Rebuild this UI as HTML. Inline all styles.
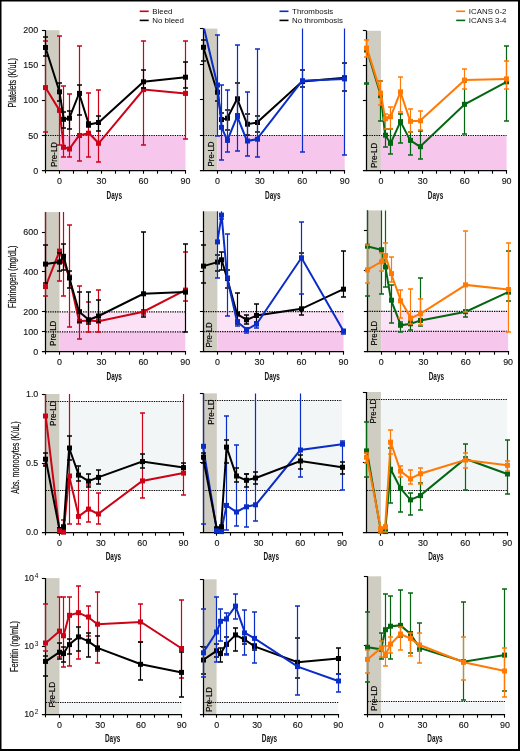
<!DOCTYPE html><html><head><meta charset="utf-8"><style>html,body{margin:0;padding:0;background:#fff;}svg{display:block;will-change:transform}</style></head><body>
<svg width="520" height="751" viewBox="0 0 520 751" font-family='"Liberation Sans", sans-serif'>
<rect x="0" y="0" width="520" height="751" fill="#fff"/>
<rect x="45.50" y="30.20" width="14.00" height="140.30" fill="#cfccc1"/>
<rect x="59.50" y="135.93" width="126.00" height="34.57" fill="#f7c6ec"/>
<line x1="45.50" y1="135.50" x2="185.50" y2="135.50" stroke="#000" stroke-width="1.2" stroke-dasharray="1.3 1.05"/>
<text transform="translate(56.80,167.10) rotate(-90)" font-size="9.5" textLength="25.20" lengthAdjust="spacingAndGlyphs" fill="#000" stroke="#000" stroke-width="0.15">Pre-LD</text>
<line x1="45.50" y1="30.20" x2="45.50" y2="171.10" stroke="#000" stroke-width="1.25"/>
<line x1="41.90" y1="170.50" x2="186.10" y2="170.50" stroke="#000" stroke-width="1.25"/>
<line x1="41.90" y1="30.50" x2="45.50" y2="30.50" stroke="#000" stroke-width="1.1"/>
<line x1="41.90" y1="65.50" x2="45.50" y2="65.50" stroke="#000" stroke-width="1.1"/>
<line x1="41.90" y1="100.50" x2="45.50" y2="100.50" stroke="#000" stroke-width="1.1"/>
<line x1="41.90" y1="135.50" x2="45.50" y2="135.50" stroke="#000" stroke-width="1.1"/>
<line x1="59.50" y1="170.50" x2="59.50" y2="173.70" stroke="#000" stroke-width="1.1"/>
<line x1="73.50" y1="170.50" x2="73.50" y2="173.70" stroke="#000" stroke-width="1.1"/>
<line x1="87.50" y1="170.50" x2="87.50" y2="173.70" stroke="#000" stroke-width="1.1"/>
<line x1="101.50" y1="170.50" x2="101.50" y2="173.70" stroke="#000" stroke-width="1.1"/>
<line x1="115.50" y1="170.50" x2="115.50" y2="173.70" stroke="#000" stroke-width="1.1"/>
<line x1="129.50" y1="170.50" x2="129.50" y2="173.70" stroke="#000" stroke-width="1.1"/>
<line x1="143.50" y1="170.50" x2="143.50" y2="173.70" stroke="#000" stroke-width="1.1"/>
<line x1="157.50" y1="170.50" x2="157.50" y2="173.70" stroke="#000" stroke-width="1.1"/>
<line x1="171.50" y1="170.50" x2="171.50" y2="173.70" stroke="#000" stroke-width="1.1"/>
<line x1="185.50" y1="170.50" x2="185.50" y2="173.70" stroke="#000" stroke-width="1.1"/>
<line x1="45.50" y1="170.50" x2="45.50" y2="173.30" stroke="#000" stroke-width="1.1"/>
<clipPath id="c11"><rect x="41.50" y="30.20" width="148.00" height="144.30"/></clipPath>
<g clip-path="url(#c11)">
<polyline points="45.50,87.60 59.50,110.40 63.70,147.30 69.30,149.00 79.10,135.50 88.90,133.20 98.70,143.30 143.50,89.60 185.50,93.40" fill="none" stroke="#cc0216" stroke-width="2.0" stroke-linejoin="miter"/>
<line x1="45.50" y1="41.00" x2="45.50" y2="132.00" stroke="#cc0216" stroke-width="1.2"/>
<line x1="43.00" y1="41.00" x2="48.00" y2="41.00" stroke="#cc0216" stroke-width="1.5"/>
<line x1="43.00" y1="132.00" x2="48.00" y2="132.00" stroke="#cc0216" stroke-width="1.5"/>
<line x1="59.50" y1="36.00" x2="59.50" y2="145.00" stroke="#cc0216" stroke-width="1.2"/>
<line x1="57.00" y1="36.00" x2="62.00" y2="36.00" stroke="#cc0216" stroke-width="1.5"/>
<line x1="57.00" y1="145.00" x2="62.00" y2="145.00" stroke="#cc0216" stroke-width="1.5"/>
<line x1="63.50" y1="86.00" x2="63.50" y2="157.00" stroke="#cc0216" stroke-width="1.2"/>
<line x1="61.00" y1="86.00" x2="66.00" y2="86.00" stroke="#cc0216" stroke-width="1.5"/>
<line x1="61.00" y1="157.00" x2="66.00" y2="157.00" stroke="#cc0216" stroke-width="1.5"/>
<line x1="69.50" y1="94.00" x2="69.50" y2="157.00" stroke="#cc0216" stroke-width="1.2"/>
<line x1="67.00" y1="94.00" x2="72.00" y2="94.00" stroke="#cc0216" stroke-width="1.5"/>
<line x1="67.00" y1="157.00" x2="72.00" y2="157.00" stroke="#cc0216" stroke-width="1.5"/>
<line x1="79.50" y1="46.00" x2="79.50" y2="161.00" stroke="#cc0216" stroke-width="1.2"/>
<line x1="77.00" y1="46.00" x2="82.00" y2="46.00" stroke="#cc0216" stroke-width="1.5"/>
<line x1="77.00" y1="161.00" x2="82.00" y2="161.00" stroke="#cc0216" stroke-width="1.5"/>
<line x1="88.50" y1="93.00" x2="88.50" y2="157.00" stroke="#cc0216" stroke-width="1.2"/>
<line x1="86.00" y1="93.00" x2="91.00" y2="93.00" stroke="#cc0216" stroke-width="1.5"/>
<line x1="86.00" y1="157.00" x2="91.00" y2="157.00" stroke="#cc0216" stroke-width="1.5"/>
<line x1="98.50" y1="90.00" x2="98.50" y2="162.00" stroke="#cc0216" stroke-width="1.2"/>
<line x1="96.00" y1="90.00" x2="101.00" y2="90.00" stroke="#cc0216" stroke-width="1.5"/>
<line x1="96.00" y1="162.00" x2="101.00" y2="162.00" stroke="#cc0216" stroke-width="1.5"/>
<line x1="143.50" y1="41.00" x2="143.50" y2="145.00" stroke="#cc0216" stroke-width="1.2"/>
<line x1="141.00" y1="41.00" x2="146.00" y2="41.00" stroke="#cc0216" stroke-width="1.5"/>
<line x1="141.00" y1="145.00" x2="146.00" y2="145.00" stroke="#cc0216" stroke-width="1.5"/>
<line x1="185.50" y1="41.00" x2="185.50" y2="139.00" stroke="#cc0216" stroke-width="1.2"/>
<line x1="183.00" y1="41.00" x2="188.00" y2="41.00" stroke="#cc0216" stroke-width="1.5"/>
<line x1="183.00" y1="139.00" x2="188.00" y2="139.00" stroke="#cc0216" stroke-width="1.5"/>
<rect x="43.00" y="85.10" width="5" height="5" fill="#cc0216"/>
<rect x="57.00" y="107.90" width="5" height="5" fill="#cc0216"/>
<rect x="61.00" y="144.80" width="5" height="5" fill="#cc0216"/>
<rect x="67.00" y="146.50" width="5" height="5" fill="#cc0216"/>
<rect x="77.00" y="133.00" width="5" height="5" fill="#cc0216"/>
<rect x="86.00" y="130.70" width="5" height="5" fill="#cc0216"/>
<rect x="96.00" y="140.80" width="5" height="5" fill="#cc0216"/>
<rect x="141.00" y="87.10" width="5" height="5" fill="#cc0216"/>
<rect x="183.00" y="90.90" width="5" height="5" fill="#cc0216"/>
<polyline points="45.50,47.50 59.50,91.80 63.70,119.30 69.30,118.20 79.10,93.40 88.90,124.50 98.70,122.50 143.50,81.80 185.50,77.20" fill="none" stroke="#000000" stroke-width="2.0" stroke-linejoin="miter"/>
<line x1="45.50" y1="37.00" x2="45.50" y2="56.00" stroke="#000000" stroke-width="1.2"/>
<line x1="43.00" y1="37.00" x2="48.00" y2="37.00" stroke="#000000" stroke-width="1.5"/>
<line x1="43.00" y1="56.00" x2="48.00" y2="56.00" stroke="#000000" stroke-width="1.5"/>
<line x1="59.50" y1="83.00" x2="59.50" y2="101.00" stroke="#000000" stroke-width="1.2"/>
<line x1="57.00" y1="83.00" x2="62.00" y2="83.00" stroke="#000000" stroke-width="1.5"/>
<line x1="57.00" y1="101.00" x2="62.00" y2="101.00" stroke="#000000" stroke-width="1.5"/>
<line x1="63.50" y1="112.00" x2="63.50" y2="128.00" stroke="#000000" stroke-width="1.2"/>
<line x1="61.00" y1="112.00" x2="66.00" y2="112.00" stroke="#000000" stroke-width="1.5"/>
<line x1="61.00" y1="128.00" x2="66.00" y2="128.00" stroke="#000000" stroke-width="1.5"/>
<line x1="69.50" y1="111.00" x2="69.50" y2="129.00" stroke="#000000" stroke-width="1.2"/>
<line x1="67.00" y1="111.00" x2="72.00" y2="111.00" stroke="#000000" stroke-width="1.5"/>
<line x1="67.00" y1="129.00" x2="72.00" y2="129.00" stroke="#000000" stroke-width="1.5"/>
<line x1="79.50" y1="85.00" x2="79.50" y2="115.00" stroke="#000000" stroke-width="1.2"/>
<line x1="77.00" y1="85.00" x2="82.00" y2="85.00" stroke="#000000" stroke-width="1.5"/>
<line x1="77.00" y1="115.00" x2="82.00" y2="115.00" stroke="#000000" stroke-width="1.5"/>
<line x1="88.50" y1="122.00" x2="88.50" y2="127.00" stroke="#000000" stroke-width="1.2"/>
<line x1="86.00" y1="122.00" x2="91.00" y2="122.00" stroke="#000000" stroke-width="1.5"/>
<line x1="86.00" y1="127.00" x2="91.00" y2="127.00" stroke="#000000" stroke-width="1.5"/>
<line x1="98.50" y1="116.00" x2="98.50" y2="131.00" stroke="#000000" stroke-width="1.2"/>
<line x1="96.00" y1="116.00" x2="101.00" y2="116.00" stroke="#000000" stroke-width="1.5"/>
<line x1="96.00" y1="131.00" x2="101.00" y2="131.00" stroke="#000000" stroke-width="1.5"/>
<line x1="143.50" y1="70.00" x2="143.50" y2="88.00" stroke="#000000" stroke-width="1.2"/>
<line x1="141.00" y1="70.00" x2="146.00" y2="70.00" stroke="#000000" stroke-width="1.5"/>
<line x1="141.00" y1="88.00" x2="146.00" y2="88.00" stroke="#000000" stroke-width="1.5"/>
<line x1="185.50" y1="62.00" x2="185.50" y2="88.00" stroke="#000000" stroke-width="1.2"/>
<line x1="183.00" y1="62.00" x2="188.00" y2="62.00" stroke="#000000" stroke-width="1.5"/>
<line x1="183.00" y1="88.00" x2="188.00" y2="88.00" stroke="#000000" stroke-width="1.5"/>
<rect x="43.00" y="45.00" width="5" height="5" fill="#000000"/>
<rect x="57.00" y="89.30" width="5" height="5" fill="#000000"/>
<rect x="61.00" y="116.80" width="5" height="5" fill="#000000"/>
<rect x="67.00" y="115.70" width="5" height="5" fill="#000000"/>
<rect x="77.00" y="90.90" width="5" height="5" fill="#000000"/>
<rect x="86.00" y="122.00" width="5" height="5" fill="#000000"/>
<rect x="96.00" y="120.00" width="5" height="5" fill="#000000"/>
<rect x="141.00" y="79.30" width="5" height="5" fill="#000000"/>
<rect x="183.00" y="74.70" width="5" height="5" fill="#000000"/>
</g>
<text x="59.50" y="184.40" font-size="8.9" text-anchor="middle" fill="#111" stroke="#111" stroke-width="0.12">0</text>
<text x="101.50" y="184.40" font-size="8.9" text-anchor="middle" fill="#111" stroke="#111" stroke-width="0.12">30</text>
<text x="143.50" y="184.40" font-size="8.9" text-anchor="middle" fill="#111" stroke="#111" stroke-width="0.12">60</text>
<text x="185.50" y="184.40" font-size="8.9" text-anchor="middle" fill="#111" stroke="#111" stroke-width="0.12">90</text>
<text x="114.30" y="198.60" font-size="10.8" font-weight="bold" text-anchor="middle" textLength="15.4" lengthAdjust="spacingAndGlyphs" fill="#111">Days</text>
<text x="38.10" y="33.30" font-size="8.9" text-anchor="end" fill="#111" stroke="#111" stroke-width="0.12">200</text>
<text x="38.10" y="68.38" font-size="8.9" text-anchor="end" fill="#111" stroke="#111" stroke-width="0.12">150</text>
<text x="38.10" y="103.45" font-size="8.9" text-anchor="end" fill="#111" stroke="#111" stroke-width="0.12">100</text>
<text x="38.10" y="138.53" font-size="8.9" text-anchor="end" fill="#111" stroke="#111" stroke-width="0.12">50</text>
<text x="38.10" y="173.60" font-size="8.9" text-anchor="end" fill="#111" stroke="#111" stroke-width="0.12">0</text>
<text transform="translate(16.00,82.80) rotate(-90)" font-size="10" text-anchor="middle" textLength="49.5" lengthAdjust="spacingAndGlyphs" fill="#111" stroke="#111" stroke-width="0.2">Platelets (K/uL)</text>
<line x1="139.70" y1="11.30" x2="148.70" y2="11.30" stroke="#cc0216" stroke-width="1.6"/>
<text x="152.30" y="14.00" font-size="7.9" fill="#111">Bleed</text>
<line x1="139.70" y1="20.40" x2="148.70" y2="20.40" stroke="#000000" stroke-width="1.6"/>
<text x="152.30" y="23.10" font-size="7.9" fill="#111">No bleed</text>
<rect x="203.50" y="28.60" width="13.90" height="141.90" fill="#cfccc1"/>
<rect x="217.40" y="135.53" width="127.30" height="34.97" fill="#f7c6ec"/>
<line x1="203.26" y1="135.50" x2="344.70" y2="135.50" stroke="#000" stroke-width="1.2" stroke-dasharray="1.3 1.05"/>
<text transform="translate(213.80,166.50) rotate(-90)" font-size="9.5" textLength="25.00" lengthAdjust="spacingAndGlyphs" fill="#000" stroke="#000" stroke-width="0.15">Pre-LD</text>
<line x1="203.50" y1="28.60" x2="203.50" y2="171.10" stroke="#000" stroke-width="1.25"/>
<line x1="199.90" y1="170.50" x2="345.10" y2="170.50" stroke="#000" stroke-width="1.25"/>
<line x1="199.90" y1="28.50" x2="203.50" y2="28.50" stroke="#000" stroke-width="1.1"/>
<line x1="199.90" y1="64.50" x2="203.50" y2="64.50" stroke="#000" stroke-width="1.1"/>
<line x1="199.90" y1="99.50" x2="203.50" y2="99.50" stroke="#000" stroke-width="1.1"/>
<line x1="199.90" y1="135.50" x2="203.50" y2="135.50" stroke="#000" stroke-width="1.1"/>
<line x1="217.50" y1="170.50" x2="217.50" y2="173.70" stroke="#000" stroke-width="1.1"/>
<line x1="231.50" y1="170.50" x2="231.50" y2="173.70" stroke="#000" stroke-width="1.1"/>
<line x1="245.50" y1="170.50" x2="245.50" y2="173.70" stroke="#000" stroke-width="1.1"/>
<line x1="259.50" y1="170.50" x2="259.50" y2="173.70" stroke="#000" stroke-width="1.1"/>
<line x1="273.50" y1="170.50" x2="273.50" y2="173.70" stroke="#000" stroke-width="1.1"/>
<line x1="288.50" y1="170.50" x2="288.50" y2="173.70" stroke="#000" stroke-width="1.1"/>
<line x1="302.50" y1="170.50" x2="302.50" y2="173.70" stroke="#000" stroke-width="1.1"/>
<line x1="316.50" y1="170.50" x2="316.50" y2="173.70" stroke="#000" stroke-width="1.1"/>
<line x1="330.50" y1="170.50" x2="330.50" y2="173.70" stroke="#000" stroke-width="1.1"/>
<line x1="344.50" y1="170.50" x2="344.50" y2="173.70" stroke="#000" stroke-width="1.1"/>
<clipPath id="c12"><rect x="199.26" y="28.60" width="149.44" height="145.90"/></clipPath>
<g clip-path="url(#c12)">
<polyline points="203.26,47.30 217.40,92.20 221.64,119.60 227.30,118.20 237.20,98.80 247.10,124.20 257.00,122.50 302.27,81.50 344.70,77.80" fill="none" stroke="#000000" stroke-width="2.0" stroke-linejoin="miter"/>
<line x1="203.50" y1="40.00" x2="203.50" y2="61.00" stroke="#000000" stroke-width="1.2"/>
<line x1="201.00" y1="40.00" x2="206.00" y2="40.00" stroke="#000000" stroke-width="1.5"/>
<line x1="201.00" y1="61.00" x2="206.00" y2="61.00" stroke="#000000" stroke-width="1.5"/>
<line x1="217.50" y1="86.00" x2="217.50" y2="101.00" stroke="#000000" stroke-width="1.2"/>
<line x1="215.00" y1="86.00" x2="220.00" y2="86.00" stroke="#000000" stroke-width="1.5"/>
<line x1="215.00" y1="101.00" x2="220.00" y2="101.00" stroke="#000000" stroke-width="1.5"/>
<line x1="221.50" y1="113.00" x2="221.50" y2="128.00" stroke="#000000" stroke-width="1.2"/>
<line x1="219.00" y1="113.00" x2="224.00" y2="113.00" stroke="#000000" stroke-width="1.5"/>
<line x1="219.00" y1="128.00" x2="224.00" y2="128.00" stroke="#000000" stroke-width="1.5"/>
<line x1="227.50" y1="110.00" x2="227.50" y2="130.00" stroke="#000000" stroke-width="1.2"/>
<line x1="225.00" y1="110.00" x2="230.00" y2="110.00" stroke="#000000" stroke-width="1.5"/>
<line x1="225.00" y1="130.00" x2="230.00" y2="130.00" stroke="#000000" stroke-width="1.5"/>
<line x1="237.50" y1="83.00" x2="237.50" y2="114.00" stroke="#000000" stroke-width="1.2"/>
<line x1="235.00" y1="83.00" x2="240.00" y2="83.00" stroke="#000000" stroke-width="1.5"/>
<line x1="235.00" y1="114.00" x2="240.00" y2="114.00" stroke="#000000" stroke-width="1.5"/>
<line x1="247.50" y1="114.00" x2="247.50" y2="135.00" stroke="#000000" stroke-width="1.2"/>
<line x1="245.00" y1="114.00" x2="250.00" y2="114.00" stroke="#000000" stroke-width="1.5"/>
<line x1="245.00" y1="135.00" x2="250.00" y2="135.00" stroke="#000000" stroke-width="1.5"/>
<line x1="257.50" y1="116.00" x2="257.50" y2="132.00" stroke="#000000" stroke-width="1.2"/>
<line x1="255.00" y1="116.00" x2="260.00" y2="116.00" stroke="#000000" stroke-width="1.5"/>
<line x1="255.00" y1="132.00" x2="260.00" y2="132.00" stroke="#000000" stroke-width="1.5"/>
<line x1="302.50" y1="70.00" x2="302.50" y2="87.00" stroke="#000000" stroke-width="1.2"/>
<line x1="300.00" y1="70.00" x2="305.00" y2="70.00" stroke="#000000" stroke-width="1.5"/>
<line x1="300.00" y1="87.00" x2="305.00" y2="87.00" stroke="#000000" stroke-width="1.5"/>
<line x1="344.50" y1="63.00" x2="344.50" y2="91.00" stroke="#000000" stroke-width="1.2"/>
<line x1="342.00" y1="63.00" x2="347.00" y2="63.00" stroke="#000000" stroke-width="1.5"/>
<line x1="342.00" y1="91.00" x2="347.00" y2="91.00" stroke="#000000" stroke-width="1.5"/>
<rect x="201.00" y="44.80" width="5" height="5" fill="#000000"/>
<rect x="215.00" y="89.70" width="5" height="5" fill="#000000"/>
<rect x="219.00" y="117.10" width="5" height="5" fill="#000000"/>
<rect x="225.00" y="115.70" width="5" height="5" fill="#000000"/>
<rect x="235.00" y="96.30" width="5" height="5" fill="#000000"/>
<rect x="245.00" y="121.70" width="5" height="5" fill="#000000"/>
<rect x="255.00" y="120.00" width="5" height="5" fill="#000000"/>
<rect x="300.00" y="79.00" width="5" height="5" fill="#000000"/>
<rect x="342.00" y="75.30" width="5" height="5" fill="#000000"/>
<polyline points="203.26,25.00 217.40,85.00 221.64,127.40 227.30,140.40 237.20,116.40 247.10,141.00 257.00,139.20 302.27,80.70 344.70,78.90" fill="none" stroke="#0a2dc8" stroke-width="2.0" stroke-linejoin="miter"/>
<line x1="217.50" y1="35.00" x2="217.50" y2="136.00" stroke="#0a2dc8" stroke-width="1.2"/>
<line x1="215.00" y1="35.00" x2="220.00" y2="35.00" stroke="#0a2dc8" stroke-width="1.5"/>
<line x1="215.00" y1="136.00" x2="220.00" y2="136.00" stroke="#0a2dc8" stroke-width="1.5"/>
<line x1="221.50" y1="85.00" x2="221.50" y2="160.00" stroke="#0a2dc8" stroke-width="1.2"/>
<line x1="219.00" y1="85.00" x2="224.00" y2="85.00" stroke="#0a2dc8" stroke-width="1.5"/>
<line x1="219.00" y1="160.00" x2="224.00" y2="160.00" stroke="#0a2dc8" stroke-width="1.5"/>
<line x1="227.50" y1="90.00" x2="227.50" y2="152.00" stroke="#0a2dc8" stroke-width="1.2"/>
<line x1="225.00" y1="90.00" x2="230.00" y2="90.00" stroke="#0a2dc8" stroke-width="1.5"/>
<line x1="225.00" y1="152.00" x2="230.00" y2="152.00" stroke="#0a2dc8" stroke-width="1.5"/>
<line x1="237.50" y1="45.00" x2="237.50" y2="151.00" stroke="#0a2dc8" stroke-width="1.2"/>
<line x1="235.00" y1="45.00" x2="240.00" y2="45.00" stroke="#0a2dc8" stroke-width="1.5"/>
<line x1="235.00" y1="151.00" x2="240.00" y2="151.00" stroke="#0a2dc8" stroke-width="1.5"/>
<line x1="247.50" y1="92.00" x2="247.50" y2="156.00" stroke="#0a2dc8" stroke-width="1.2"/>
<line x1="245.00" y1="92.00" x2="250.00" y2="92.00" stroke="#0a2dc8" stroke-width="1.5"/>
<line x1="245.00" y1="156.00" x2="250.00" y2="156.00" stroke="#0a2dc8" stroke-width="1.5"/>
<line x1="257.50" y1="49.00" x2="257.50" y2="157.00" stroke="#0a2dc8" stroke-width="1.2"/>
<line x1="255.00" y1="49.00" x2="260.00" y2="49.00" stroke="#0a2dc8" stroke-width="1.5"/>
<line x1="255.00" y1="157.00" x2="260.00" y2="157.00" stroke="#0a2dc8" stroke-width="1.5"/>
<line x1="302.50" y1="26.60" x2="302.50" y2="152.00" stroke="#0a2dc8" stroke-width="1.2"/>
<line x1="300.00" y1="152.00" x2="305.00" y2="152.00" stroke="#0a2dc8" stroke-width="1.5"/>
<line x1="344.50" y1="26.60" x2="344.50" y2="155.00" stroke="#0a2dc8" stroke-width="1.2"/>
<line x1="342.00" y1="155.00" x2="347.00" y2="155.00" stroke="#0a2dc8" stroke-width="1.5"/>
<rect x="201.00" y="22.50" width="5" height="5" fill="#0a2dc8"/>
<rect x="215.00" y="82.50" width="5" height="5" fill="#0a2dc8"/>
<rect x="219.00" y="124.90" width="5" height="5" fill="#0a2dc8"/>
<rect x="225.00" y="137.90" width="5" height="5" fill="#0a2dc8"/>
<rect x="235.00" y="113.90" width="5" height="5" fill="#0a2dc8"/>
<rect x="245.00" y="138.50" width="5" height="5" fill="#0a2dc8"/>
<rect x="255.00" y="136.70" width="5" height="5" fill="#0a2dc8"/>
<rect x="300.00" y="78.20" width="5" height="5" fill="#0a2dc8"/>
<rect x="342.00" y="76.40" width="5" height="5" fill="#0a2dc8"/>
</g>
<text x="217.40" y="184.40" font-size="8.9" text-anchor="middle" fill="#111" stroke="#111" stroke-width="0.12">0</text>
<text x="259.83" y="184.40" font-size="8.9" text-anchor="middle" fill="#111" stroke="#111" stroke-width="0.12">30</text>
<text x="302.27" y="184.40" font-size="8.9" text-anchor="middle" fill="#111" stroke="#111" stroke-width="0.12">60</text>
<text x="344.70" y="184.40" font-size="8.9" text-anchor="middle" fill="#111" stroke="#111" stroke-width="0.12">90</text>
<text x="272.78" y="198.60" font-size="10.8" font-weight="bold" text-anchor="middle" textLength="15.4" lengthAdjust="spacingAndGlyphs" fill="#111">Days</text>
<line x1="279.50" y1="11.30" x2="288.50" y2="11.30" stroke="#0a2dc8" stroke-width="1.6"/>
<text x="292.10" y="14.00" font-size="7.9" fill="#111">Thrombosis</text>
<line x1="279.50" y1="20.40" x2="288.50" y2="20.40" stroke="#000000" stroke-width="1.6"/>
<text x="292.10" y="23.10" font-size="7.9" fill="#111">No thrombosis</text>
<rect x="366.50" y="30.80" width="14.40" height="139.70" fill="#cfccc1"/>
<rect x="380.90" y="136.07" width="125.70" height="34.43" fill="#f7c6ec"/>
<line x1="366.93" y1="135.50" x2="506.60" y2="135.50" stroke="#000" stroke-width="1.2" stroke-dasharray="1.3 1.05"/>
<text transform="translate(376.80,168.00) rotate(-90)" font-size="9.5" textLength="25.20" lengthAdjust="spacingAndGlyphs" fill="#000" stroke="#000" stroke-width="0.15">Pre-LD</text>
<line x1="366.50" y1="30.80" x2="366.50" y2="171.10" stroke="#000" stroke-width="1.25"/>
<line x1="362.90" y1="170.50" x2="507.10" y2="170.50" stroke="#000" stroke-width="1.25"/>
<line x1="362.90" y1="30.50" x2="366.50" y2="30.50" stroke="#000" stroke-width="1.1"/>
<line x1="362.90" y1="65.50" x2="366.50" y2="65.50" stroke="#000" stroke-width="1.1"/>
<line x1="362.90" y1="100.50" x2="366.50" y2="100.50" stroke="#000" stroke-width="1.1"/>
<line x1="362.90" y1="135.50" x2="366.50" y2="135.50" stroke="#000" stroke-width="1.1"/>
<line x1="380.50" y1="170.50" x2="380.50" y2="173.70" stroke="#000" stroke-width="1.1"/>
<line x1="394.50" y1="170.50" x2="394.50" y2="173.70" stroke="#000" stroke-width="1.1"/>
<line x1="408.50" y1="170.50" x2="408.50" y2="173.70" stroke="#000" stroke-width="1.1"/>
<line x1="422.50" y1="170.50" x2="422.50" y2="173.70" stroke="#000" stroke-width="1.1"/>
<line x1="436.50" y1="170.50" x2="436.50" y2="173.70" stroke="#000" stroke-width="1.1"/>
<line x1="450.50" y1="170.50" x2="450.50" y2="173.70" stroke="#000" stroke-width="1.1"/>
<line x1="464.50" y1="170.50" x2="464.50" y2="173.70" stroke="#000" stroke-width="1.1"/>
<line x1="478.50" y1="170.50" x2="478.50" y2="173.70" stroke="#000" stroke-width="1.1"/>
<line x1="492.50" y1="170.50" x2="492.50" y2="173.70" stroke="#000" stroke-width="1.1"/>
<line x1="506.50" y1="170.50" x2="506.50" y2="173.70" stroke="#000" stroke-width="1.1"/>
<clipPath id="c13"><rect x="362.93" y="30.80" width="147.67" height="143.70"/></clipPath>
<g clip-path="url(#c13)">
<polyline points="366.93,50.00 380.90,95.70 385.09,135.20 390.68,143.30 400.45,121.60 410.23,140.40 420.01,146.70 464.70,104.30 506.60,81.80" fill="none" stroke="#046612" stroke-width="2.0" stroke-linejoin="miter"/>
<line x1="366.50" y1="83.00" x2="366.50" y2="84.00" stroke="#046612" stroke-width="1.2"/>
<line x1="364.00" y1="83.00" x2="369.00" y2="83.00" stroke="#046612" stroke-width="1.5"/>
<line x1="364.00" y1="84.00" x2="369.00" y2="84.00" stroke="#046612" stroke-width="1.5"/>
<line x1="380.50" y1="81.00" x2="380.50" y2="121.00" stroke="#046612" stroke-width="1.2"/>
<line x1="378.00" y1="81.00" x2="383.00" y2="81.00" stroke="#046612" stroke-width="1.5"/>
<line x1="378.00" y1="121.00" x2="383.00" y2="121.00" stroke="#046612" stroke-width="1.5"/>
<line x1="385.50" y1="129.00" x2="385.50" y2="147.00" stroke="#046612" stroke-width="1.2"/>
<line x1="383.00" y1="129.00" x2="388.00" y2="129.00" stroke="#046612" stroke-width="1.5"/>
<line x1="383.00" y1="147.00" x2="388.00" y2="147.00" stroke="#046612" stroke-width="1.5"/>
<line x1="390.50" y1="129.00" x2="390.50" y2="154.00" stroke="#046612" stroke-width="1.2"/>
<line x1="388.00" y1="129.00" x2="393.00" y2="129.00" stroke="#046612" stroke-width="1.5"/>
<line x1="388.00" y1="154.00" x2="393.00" y2="154.00" stroke="#046612" stroke-width="1.5"/>
<line x1="400.50" y1="114.00" x2="400.50" y2="143.00" stroke="#046612" stroke-width="1.2"/>
<line x1="398.00" y1="114.00" x2="403.00" y2="114.00" stroke="#046612" stroke-width="1.5"/>
<line x1="398.00" y1="143.00" x2="403.00" y2="143.00" stroke="#046612" stroke-width="1.5"/>
<line x1="410.50" y1="132.00" x2="410.50" y2="155.00" stroke="#046612" stroke-width="1.2"/>
<line x1="408.00" y1="132.00" x2="413.00" y2="132.00" stroke="#046612" stroke-width="1.5"/>
<line x1="408.00" y1="155.00" x2="413.00" y2="155.00" stroke="#046612" stroke-width="1.5"/>
<line x1="420.50" y1="131.00" x2="420.50" y2="159.00" stroke="#046612" stroke-width="1.2"/>
<line x1="418.00" y1="131.00" x2="423.00" y2="131.00" stroke="#046612" stroke-width="1.5"/>
<line x1="418.00" y1="159.00" x2="423.00" y2="159.00" stroke="#046612" stroke-width="1.5"/>
<line x1="464.50" y1="82.00" x2="464.50" y2="134.00" stroke="#046612" stroke-width="1.2"/>
<line x1="462.00" y1="82.00" x2="467.00" y2="82.00" stroke="#046612" stroke-width="1.5"/>
<line x1="462.00" y1="134.00" x2="467.00" y2="134.00" stroke="#046612" stroke-width="1.5"/>
<line x1="506.50" y1="46.00" x2="506.50" y2="121.00" stroke="#046612" stroke-width="1.2"/>
<line x1="504.00" y1="46.00" x2="509.00" y2="46.00" stroke="#046612" stroke-width="1.5"/>
<line x1="504.00" y1="121.00" x2="509.00" y2="121.00" stroke="#046612" stroke-width="1.5"/>
<rect x="364.00" y="47.50" width="5" height="5" fill="#046612"/>
<rect x="378.00" y="93.20" width="5" height="5" fill="#046612"/>
<rect x="383.00" y="132.70" width="5" height="5" fill="#046612"/>
<rect x="388.00" y="140.80" width="5" height="5" fill="#046612"/>
<rect x="398.00" y="119.10" width="5" height="5" fill="#046612"/>
<rect x="408.00" y="137.90" width="5" height="5" fill="#046612"/>
<rect x="418.00" y="144.20" width="5" height="5" fill="#046612"/>
<rect x="462.00" y="101.80" width="5" height="5" fill="#046612"/>
<rect x="504.00" y="79.30" width="5" height="5" fill="#046612"/>
<polyline points="366.93,48.10 380.90,93.10 385.09,118.70 390.68,116.70 400.45,91.90 410.23,121.30 420.01,120.80 464.70,80.10 506.60,78.90" fill="none" stroke="#ff7a05" stroke-width="2.0" stroke-linejoin="miter"/>
<line x1="366.50" y1="40.00" x2="366.50" y2="57.00" stroke="#ff7a05" stroke-width="1.2"/>
<line x1="364.00" y1="40.00" x2="369.00" y2="40.00" stroke="#ff7a05" stroke-width="1.5"/>
<line x1="364.00" y1="57.00" x2="369.00" y2="57.00" stroke="#ff7a05" stroke-width="1.5"/>
<line x1="380.50" y1="81.00" x2="380.50" y2="105.00" stroke="#ff7a05" stroke-width="1.2"/>
<line x1="378.00" y1="81.00" x2="383.00" y2="81.00" stroke="#ff7a05" stroke-width="1.5"/>
<line x1="378.00" y1="105.00" x2="383.00" y2="105.00" stroke="#ff7a05" stroke-width="1.5"/>
<line x1="385.50" y1="114.00" x2="385.50" y2="129.00" stroke="#ff7a05" stroke-width="1.2"/>
<line x1="383.00" y1="114.00" x2="388.00" y2="114.00" stroke="#ff7a05" stroke-width="1.5"/>
<line x1="383.00" y1="129.00" x2="388.00" y2="129.00" stroke="#ff7a05" stroke-width="1.5"/>
<line x1="390.50" y1="107.00" x2="390.50" y2="129.00" stroke="#ff7a05" stroke-width="1.2"/>
<line x1="388.00" y1="107.00" x2="393.00" y2="107.00" stroke="#ff7a05" stroke-width="1.5"/>
<line x1="388.00" y1="129.00" x2="393.00" y2="129.00" stroke="#ff7a05" stroke-width="1.5"/>
<line x1="400.50" y1="77.00" x2="400.50" y2="112.00" stroke="#ff7a05" stroke-width="1.2"/>
<line x1="398.00" y1="77.00" x2="403.00" y2="77.00" stroke="#ff7a05" stroke-width="1.5"/>
<line x1="398.00" y1="112.00" x2="403.00" y2="112.00" stroke="#ff7a05" stroke-width="1.5"/>
<line x1="410.50" y1="109.00" x2="410.50" y2="132.00" stroke="#ff7a05" stroke-width="1.2"/>
<line x1="408.00" y1="109.00" x2="413.00" y2="109.00" stroke="#ff7a05" stroke-width="1.5"/>
<line x1="408.00" y1="132.00" x2="413.00" y2="132.00" stroke="#ff7a05" stroke-width="1.5"/>
<line x1="420.50" y1="111.00" x2="420.50" y2="130.00" stroke="#ff7a05" stroke-width="1.2"/>
<line x1="418.00" y1="111.00" x2="423.00" y2="111.00" stroke="#ff7a05" stroke-width="1.5"/>
<line x1="418.00" y1="130.00" x2="423.00" y2="130.00" stroke="#ff7a05" stroke-width="1.5"/>
<line x1="464.50" y1="69.00" x2="464.50" y2="89.00" stroke="#ff7a05" stroke-width="1.2"/>
<line x1="462.00" y1="69.00" x2="467.00" y2="69.00" stroke="#ff7a05" stroke-width="1.5"/>
<line x1="462.00" y1="89.00" x2="467.00" y2="89.00" stroke="#ff7a05" stroke-width="1.5"/>
<line x1="506.50" y1="61.00" x2="506.50" y2="89.00" stroke="#ff7a05" stroke-width="1.2"/>
<line x1="504.00" y1="61.00" x2="509.00" y2="61.00" stroke="#ff7a05" stroke-width="1.5"/>
<line x1="504.00" y1="89.00" x2="509.00" y2="89.00" stroke="#ff7a05" stroke-width="1.5"/>
<rect x="364.00" y="45.60" width="5" height="5" fill="#ff7a05"/>
<rect x="378.00" y="90.60" width="5" height="5" fill="#ff7a05"/>
<rect x="383.00" y="116.20" width="5" height="5" fill="#ff7a05"/>
<rect x="388.00" y="114.20" width="5" height="5" fill="#ff7a05"/>
<rect x="398.00" y="89.40" width="5" height="5" fill="#ff7a05"/>
<rect x="408.00" y="118.80" width="5" height="5" fill="#ff7a05"/>
<rect x="418.00" y="118.30" width="5" height="5" fill="#ff7a05"/>
<rect x="462.00" y="77.60" width="5" height="5" fill="#ff7a05"/>
<rect x="504.00" y="76.40" width="5" height="5" fill="#ff7a05"/>
</g>
<text x="380.90" y="184.40" font-size="8.9" text-anchor="middle" fill="#111" stroke="#111" stroke-width="0.12">0</text>
<text x="422.80" y="184.40" font-size="8.9" text-anchor="middle" fill="#111" stroke="#111" stroke-width="0.12">30</text>
<text x="464.70" y="184.40" font-size="8.9" text-anchor="middle" fill="#111" stroke="#111" stroke-width="0.12">60</text>
<text x="506.60" y="184.40" font-size="8.9" text-anchor="middle" fill="#111" stroke="#111" stroke-width="0.12">90</text>
<text x="435.57" y="198.60" font-size="10.8" font-weight="bold" text-anchor="middle" textLength="15.4" lengthAdjust="spacingAndGlyphs" fill="#111">Days</text>
<line x1="456.20" y1="11.30" x2="465.20" y2="11.30" stroke="#ff7a05" stroke-width="1.6"/>
<text x="468.80" y="14.00" font-size="7.9" fill="#111">ICANS 0-2</text>
<line x1="456.20" y1="20.40" x2="465.20" y2="20.40" stroke="#046612" stroke-width="1.6"/>
<text x="468.80" y="23.10" font-size="7.9" fill="#111">ICANS 3-4</text>
<rect x="45.50" y="212.10" width="14.00" height="139.40" fill="#cfccc1"/>
<rect x="59.50" y="312.17" width="125.80" height="19.41" fill="#fbe2f6"/>
<rect x="59.50" y="332.09" width="125.80" height="19.41" fill="#f7c6ec"/>
<line x1="45.52" y1="311.87" x2="185.30" y2="311.87" stroke="#000" stroke-width="1.2" stroke-dasharray="1.3 1.05"/>
<line x1="45.52" y1="331.79" x2="185.30" y2="331.79" stroke="#000" stroke-width="1.2" stroke-dasharray="1.3 1.05"/>
<text transform="translate(55.90,345.90) rotate(-90)" font-size="9.5" textLength="25.20" lengthAdjust="spacingAndGlyphs" fill="#000" stroke="#000" stroke-width="0.15">Pre-LD</text>
<line x1="45.50" y1="212.10" x2="45.50" y2="352.10" stroke="#000" stroke-width="1.25"/>
<line x1="41.90" y1="351.50" x2="186.10" y2="351.50" stroke="#000" stroke-width="1.25"/>
<line x1="41.90" y1="232.50" x2="45.50" y2="232.50" stroke="#000" stroke-width="1.1"/>
<line x1="41.90" y1="271.50" x2="45.50" y2="271.50" stroke="#000" stroke-width="1.1"/>
<line x1="41.90" y1="311.50" x2="45.50" y2="311.50" stroke="#000" stroke-width="1.1"/>
<line x1="41.90" y1="331.50" x2="45.50" y2="331.50" stroke="#000" stroke-width="1.1"/>
<line x1="59.50" y1="351.50" x2="59.50" y2="354.70" stroke="#000" stroke-width="1.1"/>
<line x1="73.50" y1="351.50" x2="73.50" y2="354.70" stroke="#000" stroke-width="1.1"/>
<line x1="87.50" y1="351.50" x2="87.50" y2="354.70" stroke="#000" stroke-width="1.1"/>
<line x1="101.50" y1="351.50" x2="101.50" y2="354.70" stroke="#000" stroke-width="1.1"/>
<line x1="115.50" y1="351.50" x2="115.50" y2="354.70" stroke="#000" stroke-width="1.1"/>
<line x1="129.50" y1="351.50" x2="129.50" y2="354.70" stroke="#000" stroke-width="1.1"/>
<line x1="143.50" y1="351.50" x2="143.50" y2="354.70" stroke="#000" stroke-width="1.1"/>
<line x1="157.50" y1="351.50" x2="157.50" y2="354.70" stroke="#000" stroke-width="1.1"/>
<line x1="171.50" y1="351.50" x2="171.50" y2="354.70" stroke="#000" stroke-width="1.1"/>
<line x1="185.50" y1="351.50" x2="185.50" y2="354.70" stroke="#000" stroke-width="1.1"/>
<line x1="45.50" y1="351.50" x2="45.50" y2="354.30" stroke="#000" stroke-width="1.1"/>
<clipPath id="c21"><rect x="41.52" y="212.10" width="147.78" height="143.40"/></clipPath>
<g clip-path="url(#c21)">
<polyline points="45.52,286.60 59.50,251.10 63.69,261.20 69.28,277.10 79.07,321.20 88.85,320.40 98.64,321.20 143.37,311.70 185.30,290.10" fill="none" stroke="#cc0216" stroke-width="2.0" stroke-linejoin="miter"/>
<line x1="45.50" y1="210.10" x2="45.50" y2="296.00" stroke="#cc0216" stroke-width="1.2"/>
<line x1="43.00" y1="296.00" x2="48.00" y2="296.00" stroke="#cc0216" stroke-width="1.5"/>
<line x1="59.50" y1="210.10" x2="59.50" y2="281.00" stroke="#cc0216" stroke-width="1.2"/>
<line x1="57.00" y1="281.00" x2="62.00" y2="281.00" stroke="#cc0216" stroke-width="1.5"/>
<line x1="63.50" y1="210.10" x2="63.50" y2="296.00" stroke="#cc0216" stroke-width="1.2"/>
<line x1="61.00" y1="296.00" x2="66.00" y2="296.00" stroke="#cc0216" stroke-width="1.5"/>
<line x1="69.50" y1="225.00" x2="69.50" y2="327.00" stroke="#cc0216" stroke-width="1.2"/>
<line x1="67.00" y1="225.00" x2="72.00" y2="225.00" stroke="#cc0216" stroke-width="1.5"/>
<line x1="67.00" y1="327.00" x2="72.00" y2="327.00" stroke="#cc0216" stroke-width="1.5"/>
<line x1="79.50" y1="286.00" x2="79.50" y2="339.00" stroke="#cc0216" stroke-width="1.2"/>
<line x1="77.00" y1="286.00" x2="82.00" y2="286.00" stroke="#cc0216" stroke-width="1.5"/>
<line x1="77.00" y1="339.00" x2="82.00" y2="339.00" stroke="#cc0216" stroke-width="1.5"/>
<line x1="88.50" y1="302.00" x2="88.50" y2="332.00" stroke="#cc0216" stroke-width="1.2"/>
<line x1="86.00" y1="302.00" x2="91.00" y2="302.00" stroke="#cc0216" stroke-width="1.5"/>
<line x1="86.00" y1="332.00" x2="91.00" y2="332.00" stroke="#cc0216" stroke-width="1.5"/>
<line x1="98.50" y1="290.00" x2="98.50" y2="332.00" stroke="#cc0216" stroke-width="1.2"/>
<line x1="96.00" y1="290.00" x2="101.00" y2="290.00" stroke="#cc0216" stroke-width="1.5"/>
<line x1="96.00" y1="332.00" x2="101.00" y2="332.00" stroke="#cc0216" stroke-width="1.5"/>
<line x1="143.50" y1="310.00" x2="143.50" y2="315.00" stroke="#cc0216" stroke-width="1.2"/>
<line x1="141.00" y1="310.00" x2="146.00" y2="310.00" stroke="#cc0216" stroke-width="1.5"/>
<line x1="141.00" y1="315.00" x2="146.00" y2="315.00" stroke="#cc0216" stroke-width="1.5"/>
<line x1="185.50" y1="252.00" x2="185.50" y2="301.00" stroke="#cc0216" stroke-width="1.2"/>
<line x1="183.00" y1="252.00" x2="188.00" y2="252.00" stroke="#cc0216" stroke-width="1.5"/>
<line x1="183.00" y1="301.00" x2="188.00" y2="301.00" stroke="#cc0216" stroke-width="1.5"/>
<rect x="43.00" y="284.10" width="5" height="5" fill="#cc0216"/>
<rect x="57.00" y="248.60" width="5" height="5" fill="#cc0216"/>
<rect x="61.00" y="258.70" width="5" height="5" fill="#cc0216"/>
<rect x="67.00" y="274.60" width="5" height="5" fill="#cc0216"/>
<rect x="77.00" y="318.70" width="5" height="5" fill="#cc0216"/>
<rect x="86.00" y="317.90" width="5" height="5" fill="#cc0216"/>
<rect x="96.00" y="318.70" width="5" height="5" fill="#cc0216"/>
<rect x="141.00" y="309.20" width="5" height="5" fill="#cc0216"/>
<rect x="183.00" y="287.60" width="5" height="5" fill="#cc0216"/>
<polyline points="45.52,264.10 59.50,262.10 63.69,256.30 69.28,278.00 79.07,311.70 88.85,319.80 98.64,316.00 143.37,293.80 185.30,292.10" fill="none" stroke="#000000" stroke-width="2.0" stroke-linejoin="miter"/>
<line x1="45.50" y1="245.00" x2="45.50" y2="283.00" stroke="#000000" stroke-width="1.2"/>
<line x1="43.00" y1="245.00" x2="48.00" y2="245.00" stroke="#000000" stroke-width="1.5"/>
<line x1="43.00" y1="283.00" x2="48.00" y2="283.00" stroke="#000000" stroke-width="1.5"/>
<line x1="59.50" y1="253.00" x2="59.50" y2="271.00" stroke="#000000" stroke-width="1.2"/>
<line x1="57.00" y1="253.00" x2="62.00" y2="253.00" stroke="#000000" stroke-width="1.5"/>
<line x1="57.00" y1="271.00" x2="62.00" y2="271.00" stroke="#000000" stroke-width="1.5"/>
<line x1="63.50" y1="244.00" x2="63.50" y2="270.00" stroke="#000000" stroke-width="1.2"/>
<line x1="61.00" y1="244.00" x2="66.00" y2="244.00" stroke="#000000" stroke-width="1.5"/>
<line x1="61.00" y1="270.00" x2="66.00" y2="270.00" stroke="#000000" stroke-width="1.5"/>
<line x1="69.50" y1="271.00" x2="69.50" y2="288.00" stroke="#000000" stroke-width="1.2"/>
<line x1="67.00" y1="271.00" x2="72.00" y2="271.00" stroke="#000000" stroke-width="1.5"/>
<line x1="67.00" y1="288.00" x2="72.00" y2="288.00" stroke="#000000" stroke-width="1.5"/>
<line x1="79.50" y1="292.00" x2="79.50" y2="322.00" stroke="#000000" stroke-width="1.2"/>
<line x1="77.00" y1="292.00" x2="82.00" y2="292.00" stroke="#000000" stroke-width="1.5"/>
<line x1="77.00" y1="322.00" x2="82.00" y2="322.00" stroke="#000000" stroke-width="1.5"/>
<line x1="88.50" y1="292.00" x2="88.50" y2="324.00" stroke="#000000" stroke-width="1.2"/>
<line x1="86.00" y1="292.00" x2="91.00" y2="292.00" stroke="#000000" stroke-width="1.5"/>
<line x1="86.00" y1="324.00" x2="91.00" y2="324.00" stroke="#000000" stroke-width="1.5"/>
<line x1="98.50" y1="300.00" x2="98.50" y2="322.00" stroke="#000000" stroke-width="1.2"/>
<line x1="96.00" y1="300.00" x2="101.00" y2="300.00" stroke="#000000" stroke-width="1.5"/>
<line x1="96.00" y1="322.00" x2="101.00" y2="322.00" stroke="#000000" stroke-width="1.5"/>
<line x1="143.50" y1="232.00" x2="143.50" y2="317.00" stroke="#000000" stroke-width="1.2"/>
<line x1="141.00" y1="232.00" x2="146.00" y2="232.00" stroke="#000000" stroke-width="1.5"/>
<line x1="141.00" y1="317.00" x2="146.00" y2="317.00" stroke="#000000" stroke-width="1.5"/>
<line x1="185.50" y1="244.00" x2="185.50" y2="332.00" stroke="#000000" stroke-width="1.2"/>
<line x1="183.00" y1="244.00" x2="188.00" y2="244.00" stroke="#000000" stroke-width="1.5"/>
<line x1="183.00" y1="332.00" x2="188.00" y2="332.00" stroke="#000000" stroke-width="1.5"/>
<rect x="43.00" y="261.60" width="5" height="5" fill="#000000"/>
<rect x="57.00" y="259.60" width="5" height="5" fill="#000000"/>
<rect x="61.00" y="253.80" width="5" height="5" fill="#000000"/>
<rect x="67.00" y="275.50" width="5" height="5" fill="#000000"/>
<rect x="77.00" y="309.20" width="5" height="5" fill="#000000"/>
<rect x="86.00" y="317.30" width="5" height="5" fill="#000000"/>
<rect x="96.00" y="313.50" width="5" height="5" fill="#000000"/>
<rect x="141.00" y="291.30" width="5" height="5" fill="#000000"/>
<rect x="183.00" y="289.60" width="5" height="5" fill="#000000"/>
</g>
<text x="59.50" y="365.40" font-size="8.9" text-anchor="middle" fill="#111" stroke="#111" stroke-width="0.12">0</text>
<text x="101.43" y="365.40" font-size="8.9" text-anchor="middle" fill="#111" stroke="#111" stroke-width="0.12">30</text>
<text x="143.37" y="365.40" font-size="8.9" text-anchor="middle" fill="#111" stroke="#111" stroke-width="0.12">60</text>
<text x="185.30" y="365.40" font-size="8.9" text-anchor="middle" fill="#111" stroke="#111" stroke-width="0.12">90</text>
<text x="114.21" y="379.60" font-size="10.8" font-weight="bold" text-anchor="middle" textLength="15.4" lengthAdjust="spacingAndGlyphs" fill="#111">Days</text>
<text x="38.12" y="235.11" font-size="8.9" text-anchor="end" fill="#111" stroke="#111" stroke-width="0.12">600</text>
<text x="38.12" y="274.94" font-size="8.9" text-anchor="end" fill="#111" stroke="#111" stroke-width="0.12">400</text>
<text x="38.12" y="314.77" font-size="8.9" text-anchor="end" fill="#111" stroke="#111" stroke-width="0.12">200</text>
<text x="38.12" y="334.69" font-size="8.9" text-anchor="end" fill="#111" stroke="#111" stroke-width="0.12">100</text>
<text x="38.12" y="354.60" font-size="8.9" text-anchor="end" fill="#111" stroke="#111" stroke-width="0.12">0</text>
<text transform="translate(16.40,276.70) rotate(-90)" font-size="10" text-anchor="middle" textLength="62.5" lengthAdjust="spacingAndGlyphs" fill="#111" stroke="#111" stroke-width="0.2">Fibrinogen (mg/dL)</text>
<rect x="203.50" y="211.30" width="13.90" height="140.10" fill="#cfccc1"/>
<rect x="217.40" y="311.87" width="126.10" height="19.51" fill="#fbe2f6"/>
<rect x="217.40" y="331.89" width="126.10" height="19.51" fill="#f7c6ec"/>
<line x1="203.39" y1="311.57" x2="343.50" y2="311.57" stroke="#000" stroke-width="1.2" stroke-dasharray="1.3 1.05"/>
<line x1="203.39" y1="331.59" x2="343.50" y2="331.59" stroke="#000" stroke-width="1.2" stroke-dasharray="1.3 1.05"/>
<text transform="translate(212.00,347.40) rotate(-90)" font-size="9.5" textLength="25.20" lengthAdjust="spacingAndGlyphs" fill="#000" stroke="#000" stroke-width="0.15">Pre-LD</text>
<line x1="203.50" y1="211.30" x2="203.50" y2="352.10" stroke="#000" stroke-width="1.25"/>
<line x1="199.90" y1="351.50" x2="344.10" y2="351.50" stroke="#000" stroke-width="1.25"/>
<line x1="199.90" y1="231.50" x2="203.50" y2="231.50" stroke="#000" stroke-width="1.1"/>
<line x1="199.90" y1="271.50" x2="203.50" y2="271.50" stroke="#000" stroke-width="1.1"/>
<line x1="199.90" y1="311.50" x2="203.50" y2="311.50" stroke="#000" stroke-width="1.1"/>
<line x1="199.90" y1="331.50" x2="203.50" y2="331.50" stroke="#000" stroke-width="1.1"/>
<line x1="217.50" y1="351.50" x2="217.50" y2="354.70" stroke="#000" stroke-width="1.1"/>
<line x1="231.50" y1="351.50" x2="231.50" y2="354.70" stroke="#000" stroke-width="1.1"/>
<line x1="245.50" y1="351.50" x2="245.50" y2="354.70" stroke="#000" stroke-width="1.1"/>
<line x1="259.50" y1="351.50" x2="259.50" y2="354.70" stroke="#000" stroke-width="1.1"/>
<line x1="273.50" y1="351.50" x2="273.50" y2="354.70" stroke="#000" stroke-width="1.1"/>
<line x1="287.50" y1="351.50" x2="287.50" y2="354.70" stroke="#000" stroke-width="1.1"/>
<line x1="301.50" y1="351.50" x2="301.50" y2="354.70" stroke="#000" stroke-width="1.1"/>
<line x1="315.50" y1="351.50" x2="315.50" y2="354.70" stroke="#000" stroke-width="1.1"/>
<line x1="329.50" y1="351.50" x2="329.50" y2="354.70" stroke="#000" stroke-width="1.1"/>
<line x1="343.50" y1="351.50" x2="343.50" y2="354.70" stroke="#000" stroke-width="1.1"/>
<clipPath id="c22"><rect x="199.39" y="211.30" width="148.11" height="144.10"/></clipPath>
<g clip-path="url(#c22)">
<polyline points="203.39,266.10 217.40,262.10 221.60,259.80 227.21,278.60 237.02,314.00 246.82,319.80 256.63,315.50 301.47,308.80 343.50,289.20" fill="none" stroke="#000000" stroke-width="2.0" stroke-linejoin="miter"/>
<line x1="203.50" y1="245.00" x2="203.50" y2="283.00" stroke="#000000" stroke-width="1.2"/>
<line x1="201.00" y1="245.00" x2="206.00" y2="245.00" stroke="#000000" stroke-width="1.5"/>
<line x1="201.00" y1="283.00" x2="206.00" y2="283.00" stroke="#000000" stroke-width="1.5"/>
<line x1="217.50" y1="255.00" x2="217.50" y2="271.00" stroke="#000000" stroke-width="1.2"/>
<line x1="215.00" y1="255.00" x2="220.00" y2="255.00" stroke="#000000" stroke-width="1.5"/>
<line x1="215.00" y1="271.00" x2="220.00" y2="271.00" stroke="#000000" stroke-width="1.5"/>
<line x1="221.50" y1="252.00" x2="221.50" y2="270.00" stroke="#000000" stroke-width="1.2"/>
<line x1="219.00" y1="252.00" x2="224.00" y2="252.00" stroke="#000000" stroke-width="1.5"/>
<line x1="219.00" y1="270.00" x2="224.00" y2="270.00" stroke="#000000" stroke-width="1.5"/>
<line x1="227.50" y1="270.00" x2="227.50" y2="288.00" stroke="#000000" stroke-width="1.2"/>
<line x1="225.00" y1="270.00" x2="230.00" y2="270.00" stroke="#000000" stroke-width="1.5"/>
<line x1="225.00" y1="288.00" x2="230.00" y2="288.00" stroke="#000000" stroke-width="1.5"/>
<line x1="237.50" y1="293.00" x2="237.50" y2="324.00" stroke="#000000" stroke-width="1.2"/>
<line x1="235.00" y1="293.00" x2="240.00" y2="293.00" stroke="#000000" stroke-width="1.5"/>
<line x1="235.00" y1="324.00" x2="240.00" y2="324.00" stroke="#000000" stroke-width="1.5"/>
<line x1="246.50" y1="315.00" x2="246.50" y2="324.00" stroke="#000000" stroke-width="1.2"/>
<line x1="244.00" y1="315.00" x2="249.00" y2="315.00" stroke="#000000" stroke-width="1.5"/>
<line x1="244.00" y1="324.00" x2="249.00" y2="324.00" stroke="#000000" stroke-width="1.5"/>
<line x1="256.50" y1="304.00" x2="256.50" y2="322.00" stroke="#000000" stroke-width="1.2"/>
<line x1="254.00" y1="304.00" x2="259.00" y2="304.00" stroke="#000000" stroke-width="1.5"/>
<line x1="254.00" y1="322.00" x2="259.00" y2="322.00" stroke="#000000" stroke-width="1.5"/>
<line x1="301.50" y1="253.00" x2="301.50" y2="315.00" stroke="#000000" stroke-width="1.2"/>
<line x1="299.00" y1="253.00" x2="304.00" y2="253.00" stroke="#000000" stroke-width="1.5"/>
<line x1="299.00" y1="315.00" x2="304.00" y2="315.00" stroke="#000000" stroke-width="1.5"/>
<line x1="343.50" y1="251.00" x2="343.50" y2="297.00" stroke="#000000" stroke-width="1.2"/>
<line x1="341.00" y1="251.00" x2="346.00" y2="251.00" stroke="#000000" stroke-width="1.5"/>
<line x1="341.00" y1="297.00" x2="346.00" y2="297.00" stroke="#000000" stroke-width="1.5"/>
<rect x="201.00" y="263.60" width="5" height="5" fill="#000000"/>
<rect x="215.00" y="259.60" width="5" height="5" fill="#000000"/>
<rect x="219.00" y="257.30" width="5" height="5" fill="#000000"/>
<rect x="225.00" y="276.10" width="5" height="5" fill="#000000"/>
<rect x="235.00" y="311.50" width="5" height="5" fill="#000000"/>
<rect x="244.00" y="317.30" width="5" height="5" fill="#000000"/>
<rect x="254.00" y="313.00" width="5" height="5" fill="#000000"/>
<rect x="299.00" y="306.30" width="5" height="5" fill="#000000"/>
<rect x="341.00" y="286.70" width="5" height="5" fill="#000000"/>
<polyline points="217.40,241.90 221.60,215.10 227.21,278.00 237.02,321.80 246.82,329.60 256.63,324.10 301.47,257.80 343.50,331.00" fill="none" stroke="#0a2dc8" stroke-width="2.0" stroke-linejoin="miter"/>
<line x1="217.50" y1="209.30" x2="217.50" y2="278.00" stroke="#0a2dc8" stroke-width="1.2"/>
<line x1="215.00" y1="278.00" x2="220.00" y2="278.00" stroke="#0a2dc8" stroke-width="1.5"/>
<line x1="221.50" y1="209.30" x2="221.50" y2="219.00" stroke="#0a2dc8" stroke-width="1.2"/>
<line x1="219.00" y1="219.00" x2="224.00" y2="219.00" stroke="#0a2dc8" stroke-width="1.5"/>
<line x1="227.50" y1="234.00" x2="227.50" y2="316.00" stroke="#0a2dc8" stroke-width="1.2"/>
<line x1="225.00" y1="234.00" x2="230.00" y2="234.00" stroke="#0a2dc8" stroke-width="1.5"/>
<line x1="225.00" y1="316.00" x2="230.00" y2="316.00" stroke="#0a2dc8" stroke-width="1.5"/>
<line x1="237.50" y1="320.00" x2="237.50" y2="326.00" stroke="#0a2dc8" stroke-width="1.2"/>
<line x1="235.00" y1="320.00" x2="240.00" y2="320.00" stroke="#0a2dc8" stroke-width="1.5"/>
<line x1="235.00" y1="326.00" x2="240.00" y2="326.00" stroke="#0a2dc8" stroke-width="1.5"/>
<line x1="246.50" y1="328.00" x2="246.50" y2="333.00" stroke="#0a2dc8" stroke-width="1.2"/>
<line x1="244.00" y1="328.00" x2="249.00" y2="328.00" stroke="#0a2dc8" stroke-width="1.5"/>
<line x1="244.00" y1="333.00" x2="249.00" y2="333.00" stroke="#0a2dc8" stroke-width="1.5"/>
<line x1="256.50" y1="322.00" x2="256.50" y2="328.00" stroke="#0a2dc8" stroke-width="1.2"/>
<line x1="254.00" y1="322.00" x2="259.00" y2="322.00" stroke="#0a2dc8" stroke-width="1.5"/>
<line x1="254.00" y1="328.00" x2="259.00" y2="328.00" stroke="#0a2dc8" stroke-width="1.5"/>
<line x1="301.50" y1="222.00" x2="301.50" y2="294.00" stroke="#0a2dc8" stroke-width="1.2"/>
<line x1="299.00" y1="222.00" x2="304.00" y2="222.00" stroke="#0a2dc8" stroke-width="1.5"/>
<line x1="299.00" y1="294.00" x2="304.00" y2="294.00" stroke="#0a2dc8" stroke-width="1.5"/>
<line x1="343.50" y1="330.00" x2="343.50" y2="334.00" stroke="#0a2dc8" stroke-width="1.2"/>
<line x1="341.00" y1="330.00" x2="346.00" y2="330.00" stroke="#0a2dc8" stroke-width="1.5"/>
<line x1="341.00" y1="334.00" x2="346.00" y2="334.00" stroke="#0a2dc8" stroke-width="1.5"/>
<rect x="215.00" y="239.40" width="5" height="5" fill="#0a2dc8"/>
<rect x="219.00" y="212.60" width="5" height="5" fill="#0a2dc8"/>
<rect x="225.00" y="275.50" width="5" height="5" fill="#0a2dc8"/>
<rect x="235.00" y="319.30" width="5" height="5" fill="#0a2dc8"/>
<rect x="244.00" y="327.10" width="5" height="5" fill="#0a2dc8"/>
<rect x="254.00" y="321.60" width="5" height="5" fill="#0a2dc8"/>
<rect x="299.00" y="255.30" width="5" height="5" fill="#0a2dc8"/>
<rect x="341.00" y="328.50" width="5" height="5" fill="#0a2dc8"/>
</g>
<text x="217.40" y="365.30" font-size="8.9" text-anchor="middle" fill="#111" stroke="#111" stroke-width="0.12">0</text>
<text x="259.43" y="365.30" font-size="8.9" text-anchor="middle" fill="#111" stroke="#111" stroke-width="0.12">30</text>
<text x="301.47" y="365.30" font-size="8.9" text-anchor="middle" fill="#111" stroke="#111" stroke-width="0.12">60</text>
<text x="343.50" y="365.30" font-size="8.9" text-anchor="middle" fill="#111" stroke="#111" stroke-width="0.12">90</text>
<text x="272.24" y="379.50" font-size="10.8" font-weight="bold" text-anchor="middle" textLength="15.4" lengthAdjust="spacingAndGlyphs" fill="#111">Days</text>
<rect x="367.50" y="210.40" width="13.70" height="141.00" fill="#cfccc1"/>
<rect x="381.20" y="311.61" width="126.90" height="19.64" fill="#fbe2f6"/>
<rect x="381.20" y="331.76" width="126.90" height="19.64" fill="#f7c6ec"/>
<line x1="367.10" y1="311.31" x2="508.10" y2="311.31" stroke="#000" stroke-width="1.2" stroke-dasharray="1.3 1.05"/>
<line x1="367.10" y1="331.46" x2="508.10" y2="331.46" stroke="#000" stroke-width="1.2" stroke-dasharray="1.3 1.05"/>
<text transform="translate(377.10,345.60) rotate(-90)" font-size="9.5" textLength="24.90" lengthAdjust="spacingAndGlyphs" fill="#000" stroke="#000" stroke-width="0.15">Pre-LD</text>
<line x1="367.50" y1="210.40" x2="367.50" y2="352.10" stroke="#000" stroke-width="1.25"/>
<line x1="363.90" y1="351.50" x2="509.10" y2="351.50" stroke="#000" stroke-width="1.25"/>
<line x1="363.90" y1="230.50" x2="367.50" y2="230.50" stroke="#000" stroke-width="1.1"/>
<line x1="363.90" y1="270.50" x2="367.50" y2="270.50" stroke="#000" stroke-width="1.1"/>
<line x1="363.90" y1="311.50" x2="367.50" y2="311.50" stroke="#000" stroke-width="1.1"/>
<line x1="363.90" y1="331.50" x2="367.50" y2="331.50" stroke="#000" stroke-width="1.1"/>
<line x1="381.50" y1="351.50" x2="381.50" y2="354.70" stroke="#000" stroke-width="1.1"/>
<line x1="395.50" y1="351.50" x2="395.50" y2="354.70" stroke="#000" stroke-width="1.1"/>
<line x1="409.50" y1="351.50" x2="409.50" y2="354.70" stroke="#000" stroke-width="1.1"/>
<line x1="423.50" y1="351.50" x2="423.50" y2="354.70" stroke="#000" stroke-width="1.1"/>
<line x1="437.50" y1="351.50" x2="437.50" y2="354.70" stroke="#000" stroke-width="1.1"/>
<line x1="451.50" y1="351.50" x2="451.50" y2="354.70" stroke="#000" stroke-width="1.1"/>
<line x1="465.50" y1="351.50" x2="465.50" y2="354.70" stroke="#000" stroke-width="1.1"/>
<line x1="479.50" y1="351.50" x2="479.50" y2="354.70" stroke="#000" stroke-width="1.1"/>
<line x1="494.50" y1="351.50" x2="494.50" y2="354.70" stroke="#000" stroke-width="1.1"/>
<line x1="508.50" y1="351.50" x2="508.50" y2="354.70" stroke="#000" stroke-width="1.1"/>
<clipPath id="c23"><rect x="363.10" y="210.40" width="149.00" height="145.00"/></clipPath>
<g clip-path="url(#c23)">
<polyline points="367.10,246.20 381.20,249.70 385.43,267.00 391.07,300.20 400.94,325.30 410.81,323.80 420.68,320.40 465.80,311.70 508.10,292.10" fill="none" stroke="#046612" stroke-width="2.0" stroke-linejoin="miter"/>
<line x1="367.50" y1="208.40" x2="367.50" y2="296.00" stroke="#046612" stroke-width="1.2"/>
<line x1="365.00" y1="296.00" x2="370.00" y2="296.00" stroke="#046612" stroke-width="1.5"/>
<line x1="381.50" y1="208.40" x2="381.50" y2="294.00" stroke="#046612" stroke-width="1.2"/>
<line x1="379.00" y1="294.00" x2="384.00" y2="294.00" stroke="#046612" stroke-width="1.5"/>
<line x1="385.50" y1="208.40" x2="385.50" y2="287.00" stroke="#046612" stroke-width="1.2"/>
<line x1="383.00" y1="287.00" x2="388.00" y2="287.00" stroke="#046612" stroke-width="1.5"/>
<line x1="391.50" y1="285.00" x2="391.50" y2="323.00" stroke="#046612" stroke-width="1.2"/>
<line x1="389.00" y1="285.00" x2="394.00" y2="285.00" stroke="#046612" stroke-width="1.5"/>
<line x1="389.00" y1="323.00" x2="394.00" y2="323.00" stroke="#046612" stroke-width="1.5"/>
<line x1="400.50" y1="322.00" x2="400.50" y2="332.00" stroke="#046612" stroke-width="1.2"/>
<line x1="398.00" y1="322.00" x2="403.00" y2="322.00" stroke="#046612" stroke-width="1.5"/>
<line x1="398.00" y1="332.00" x2="403.00" y2="332.00" stroke="#046612" stroke-width="1.5"/>
<line x1="410.50" y1="321.00" x2="410.50" y2="330.00" stroke="#046612" stroke-width="1.2"/>
<line x1="408.00" y1="321.00" x2="413.00" y2="321.00" stroke="#046612" stroke-width="1.5"/>
<line x1="408.00" y1="330.00" x2="413.00" y2="330.00" stroke="#046612" stroke-width="1.5"/>
<line x1="420.50" y1="278.00" x2="420.50" y2="326.00" stroke="#046612" stroke-width="1.2"/>
<line x1="418.00" y1="278.00" x2="423.00" y2="278.00" stroke="#046612" stroke-width="1.5"/>
<line x1="418.00" y1="326.00" x2="423.00" y2="326.00" stroke="#046612" stroke-width="1.5"/>
<line x1="465.50" y1="310.00" x2="465.50" y2="317.00" stroke="#046612" stroke-width="1.2"/>
<line x1="463.00" y1="310.00" x2="468.00" y2="310.00" stroke="#046612" stroke-width="1.5"/>
<line x1="463.00" y1="317.00" x2="468.00" y2="317.00" stroke="#046612" stroke-width="1.5"/>
<line x1="508.50" y1="251.00" x2="508.50" y2="301.00" stroke="#046612" stroke-width="1.2"/>
<line x1="506.00" y1="251.00" x2="511.00" y2="251.00" stroke="#046612" stroke-width="1.5"/>
<line x1="506.00" y1="301.00" x2="511.00" y2="301.00" stroke="#046612" stroke-width="1.5"/>
<rect x="365.00" y="243.70" width="5" height="5" fill="#046612"/>
<rect x="379.00" y="247.20" width="5" height="5" fill="#046612"/>
<rect x="383.00" y="264.50" width="5" height="5" fill="#046612"/>
<rect x="389.00" y="297.70" width="5" height="5" fill="#046612"/>
<rect x="398.00" y="322.80" width="5" height="5" fill="#046612"/>
<rect x="408.00" y="321.30" width="5" height="5" fill="#046612"/>
<rect x="418.00" y="317.90" width="5" height="5" fill="#046612"/>
<rect x="463.00" y="309.20" width="5" height="5" fill="#046612"/>
<rect x="506.00" y="289.60" width="5" height="5" fill="#046612"/>
<polyline points="367.10,269.90 381.20,261.80 385.43,255.50 391.07,273.60 400.94,300.80 410.81,318.10 420.68,313.70 465.80,284.90 508.10,289.50" fill="none" stroke="#ff7a05" stroke-width="2.0" stroke-linejoin="miter"/>
<line x1="367.50" y1="245.00" x2="367.50" y2="283.00" stroke="#ff7a05" stroke-width="1.2"/>
<line x1="365.00" y1="245.00" x2="370.00" y2="245.00" stroke="#ff7a05" stroke-width="1.5"/>
<line x1="365.00" y1="283.00" x2="370.00" y2="283.00" stroke="#ff7a05" stroke-width="1.5"/>
<line x1="381.50" y1="253.00" x2="381.50" y2="271.00" stroke="#ff7a05" stroke-width="1.2"/>
<line x1="379.00" y1="253.00" x2="384.00" y2="253.00" stroke="#ff7a05" stroke-width="1.5"/>
<line x1="379.00" y1="271.00" x2="384.00" y2="271.00" stroke="#ff7a05" stroke-width="1.5"/>
<line x1="385.50" y1="243.00" x2="385.50" y2="262.00" stroke="#ff7a05" stroke-width="1.2"/>
<line x1="383.00" y1="243.00" x2="388.00" y2="243.00" stroke="#ff7a05" stroke-width="1.5"/>
<line x1="383.00" y1="262.00" x2="388.00" y2="262.00" stroke="#ff7a05" stroke-width="1.5"/>
<line x1="391.50" y1="257.00" x2="391.50" y2="282.00" stroke="#ff7a05" stroke-width="1.2"/>
<line x1="389.00" y1="257.00" x2="394.00" y2="257.00" stroke="#ff7a05" stroke-width="1.5"/>
<line x1="389.00" y1="282.00" x2="394.00" y2="282.00" stroke="#ff7a05" stroke-width="1.5"/>
<line x1="400.50" y1="290.00" x2="400.50" y2="318.00" stroke="#ff7a05" stroke-width="1.2"/>
<line x1="398.00" y1="290.00" x2="403.00" y2="290.00" stroke="#ff7a05" stroke-width="1.5"/>
<line x1="398.00" y1="318.00" x2="403.00" y2="318.00" stroke="#ff7a05" stroke-width="1.5"/>
<line x1="410.50" y1="289.00" x2="410.50" y2="324.00" stroke="#ff7a05" stroke-width="1.2"/>
<line x1="408.00" y1="289.00" x2="413.00" y2="289.00" stroke="#ff7a05" stroke-width="1.5"/>
<line x1="408.00" y1="324.00" x2="413.00" y2="324.00" stroke="#ff7a05" stroke-width="1.5"/>
<line x1="420.50" y1="299.00" x2="420.50" y2="325.00" stroke="#ff7a05" stroke-width="1.2"/>
<line x1="418.00" y1="299.00" x2="423.00" y2="299.00" stroke="#ff7a05" stroke-width="1.5"/>
<line x1="418.00" y1="325.00" x2="423.00" y2="325.00" stroke="#ff7a05" stroke-width="1.5"/>
<line x1="465.50" y1="231.00" x2="465.50" y2="312.00" stroke="#ff7a05" stroke-width="1.2"/>
<line x1="463.00" y1="231.00" x2="468.00" y2="231.00" stroke="#ff7a05" stroke-width="1.5"/>
<line x1="463.00" y1="312.00" x2="468.00" y2="312.00" stroke="#ff7a05" stroke-width="1.5"/>
<line x1="508.50" y1="243.00" x2="508.50" y2="332.00" stroke="#ff7a05" stroke-width="1.2"/>
<line x1="506.00" y1="243.00" x2="511.00" y2="243.00" stroke="#ff7a05" stroke-width="1.5"/>
<line x1="506.00" y1="332.00" x2="511.00" y2="332.00" stroke="#ff7a05" stroke-width="1.5"/>
<rect x="365.00" y="267.40" width="5" height="5" fill="#ff7a05"/>
<rect x="379.00" y="259.30" width="5" height="5" fill="#ff7a05"/>
<rect x="383.00" y="253.00" width="5" height="5" fill="#ff7a05"/>
<rect x="389.00" y="271.10" width="5" height="5" fill="#ff7a05"/>
<rect x="398.00" y="298.30" width="5" height="5" fill="#ff7a05"/>
<rect x="408.00" y="315.60" width="5" height="5" fill="#ff7a05"/>
<rect x="418.00" y="311.20" width="5" height="5" fill="#ff7a05"/>
<rect x="463.00" y="282.40" width="5" height="5" fill="#ff7a05"/>
<rect x="506.00" y="287.00" width="5" height="5" fill="#ff7a05"/>
</g>
<text x="381.20" y="365.30" font-size="8.9" text-anchor="middle" fill="#111" stroke="#111" stroke-width="0.12">0</text>
<text x="423.50" y="365.30" font-size="8.9" text-anchor="middle" fill="#111" stroke="#111" stroke-width="0.12">30</text>
<text x="465.80" y="365.30" font-size="8.9" text-anchor="middle" fill="#111" stroke="#111" stroke-width="0.12">60</text>
<text x="508.10" y="365.30" font-size="8.9" text-anchor="middle" fill="#111" stroke="#111" stroke-width="0.12">90</text>
<text x="436.40" y="379.50" font-size="10.8" font-weight="bold" text-anchor="middle" textLength="15.4" lengthAdjust="spacingAndGlyphs" fill="#111">Days</text>
<rect x="45.50" y="394.00" width="14.00" height="138.30" fill="#cfccc1"/>
<rect x="59.50" y="401.41" width="124.00" height="89.39" fill="#f2f6f7"/>
<line x1="45.72" y1="401.50" x2="183.50" y2="401.50" stroke="#000" stroke-width="1.2" stroke-dasharray="1.3 1.05"/>
<line x1="45.72" y1="490.50" x2="183.50" y2="490.50" stroke="#000" stroke-width="1.2" stroke-dasharray="1.3 1.05"/>
<text transform="translate(55.60,425.90) rotate(-90)" font-size="9.5" textLength="25.20" lengthAdjust="spacingAndGlyphs" fill="#000" stroke="#000" stroke-width="0.15">Pre-LD</text>
<line x1="45.50" y1="394.00" x2="45.50" y2="533.10" stroke="#000" stroke-width="1.25"/>
<line x1="41.90" y1="532.50" x2="184.10" y2="532.50" stroke="#000" stroke-width="1.25"/>
<line x1="41.90" y1="394.50" x2="45.50" y2="394.50" stroke="#000" stroke-width="1.1"/>
<line x1="41.90" y1="463.50" x2="45.50" y2="463.50" stroke="#000" stroke-width="1.1"/>
<line x1="59.50" y1="532.50" x2="59.50" y2="535.70" stroke="#000" stroke-width="1.1"/>
<line x1="73.50" y1="532.50" x2="73.50" y2="535.70" stroke="#000" stroke-width="1.1"/>
<line x1="87.50" y1="532.50" x2="87.50" y2="535.70" stroke="#000" stroke-width="1.1"/>
<line x1="100.50" y1="532.50" x2="100.50" y2="535.70" stroke="#000" stroke-width="1.1"/>
<line x1="114.50" y1="532.50" x2="114.50" y2="535.70" stroke="#000" stroke-width="1.1"/>
<line x1="128.50" y1="532.50" x2="128.50" y2="535.70" stroke="#000" stroke-width="1.1"/>
<line x1="142.50" y1="532.50" x2="142.50" y2="535.70" stroke="#000" stroke-width="1.1"/>
<line x1="155.50" y1="532.50" x2="155.50" y2="535.70" stroke="#000" stroke-width="1.1"/>
<line x1="169.50" y1="532.50" x2="169.50" y2="535.70" stroke="#000" stroke-width="1.1"/>
<line x1="183.50" y1="532.50" x2="183.50" y2="535.70" stroke="#000" stroke-width="1.1"/>
<line x1="45.50" y1="532.50" x2="45.50" y2="535.30" stroke="#000" stroke-width="1.1"/>
<clipPath id="c31"><rect x="41.72" y="394.00" width="145.78" height="142.30"/></clipPath>
<g clip-path="url(#c31)">
<polyline points="45.72,416.00 59.50,530.80 63.63,532.20 69.14,476.00 78.79,516.40 88.43,509.10 98.08,514.00 142.17,480.90 183.50,473.10" fill="none" stroke="#cc0216" stroke-width="2.0" stroke-linejoin="miter"/>
<line x1="45.50" y1="392.00" x2="45.50" y2="465.00" stroke="#cc0216" stroke-width="1.2"/>
<line x1="43.00" y1="465.00" x2="48.00" y2="465.00" stroke="#cc0216" stroke-width="1.5"/>
<line x1="59.50" y1="528.00" x2="59.50" y2="533.00" stroke="#cc0216" stroke-width="1.2"/>
<line x1="57.00" y1="528.00" x2="62.00" y2="528.00" stroke="#cc0216" stroke-width="1.5"/>
<line x1="57.00" y1="533.00" x2="62.00" y2="533.00" stroke="#cc0216" stroke-width="1.5"/>
<line x1="63.50" y1="520.00" x2="63.50" y2="533.00" stroke="#cc0216" stroke-width="1.2"/>
<line x1="61.00" y1="520.00" x2="66.00" y2="520.00" stroke="#cc0216" stroke-width="1.5"/>
<line x1="61.00" y1="533.00" x2="66.00" y2="533.00" stroke="#cc0216" stroke-width="1.5"/>
<line x1="69.50" y1="392.00" x2="69.50" y2="524.00" stroke="#cc0216" stroke-width="1.2"/>
<line x1="67.00" y1="524.00" x2="72.00" y2="524.00" stroke="#cc0216" stroke-width="1.5"/>
<line x1="78.50" y1="476.00" x2="78.50" y2="524.00" stroke="#cc0216" stroke-width="1.2"/>
<line x1="76.00" y1="476.00" x2="81.00" y2="476.00" stroke="#cc0216" stroke-width="1.5"/>
<line x1="76.00" y1="524.00" x2="81.00" y2="524.00" stroke="#cc0216" stroke-width="1.5"/>
<line x1="88.50" y1="485.00" x2="88.50" y2="522.00" stroke="#cc0216" stroke-width="1.2"/>
<line x1="86.00" y1="485.00" x2="91.00" y2="485.00" stroke="#cc0216" stroke-width="1.5"/>
<line x1="86.00" y1="522.00" x2="91.00" y2="522.00" stroke="#cc0216" stroke-width="1.5"/>
<line x1="98.50" y1="493.00" x2="98.50" y2="524.00" stroke="#cc0216" stroke-width="1.2"/>
<line x1="96.00" y1="493.00" x2="101.00" y2="493.00" stroke="#cc0216" stroke-width="1.5"/>
<line x1="96.00" y1="524.00" x2="101.00" y2="524.00" stroke="#cc0216" stroke-width="1.5"/>
<line x1="142.50" y1="413.00" x2="142.50" y2="498.00" stroke="#cc0216" stroke-width="1.2"/>
<line x1="140.00" y1="413.00" x2="145.00" y2="413.00" stroke="#cc0216" stroke-width="1.5"/>
<line x1="140.00" y1="498.00" x2="145.00" y2="498.00" stroke="#cc0216" stroke-width="1.5"/>
<line x1="183.50" y1="392.00" x2="183.50" y2="495.00" stroke="#cc0216" stroke-width="1.2"/>
<line x1="181.00" y1="495.00" x2="186.00" y2="495.00" stroke="#cc0216" stroke-width="1.5"/>
<polyline points="45.72,459.20 59.50,529.50 63.63,527.40 69.14,448.00 78.79,475.10 88.43,481.20 98.08,477.40 142.17,461.60 183.50,467.60" fill="none" stroke="#000000" stroke-width="2.0" stroke-linejoin="miter"/>
<line x1="45.50" y1="453.00" x2="45.50" y2="466.00" stroke="#000000" stroke-width="1.2"/>
<line x1="43.00" y1="453.00" x2="48.00" y2="453.00" stroke="#000000" stroke-width="1.5"/>
<line x1="43.00" y1="466.00" x2="48.00" y2="466.00" stroke="#000000" stroke-width="1.5"/>
<line x1="59.50" y1="528.00" x2="59.50" y2="533.00" stroke="#000000" stroke-width="1.2"/>
<line x1="57.00" y1="528.00" x2="62.00" y2="528.00" stroke="#000000" stroke-width="1.5"/>
<line x1="57.00" y1="533.00" x2="62.00" y2="533.00" stroke="#000000" stroke-width="1.5"/>
<line x1="63.50" y1="525.00" x2="63.50" y2="532.00" stroke="#000000" stroke-width="1.2"/>
<line x1="61.00" y1="525.00" x2="66.00" y2="525.00" stroke="#000000" stroke-width="1.5"/>
<line x1="61.00" y1="532.00" x2="66.00" y2="532.00" stroke="#000000" stroke-width="1.5"/>
<line x1="69.50" y1="436.00" x2="69.50" y2="460.00" stroke="#000000" stroke-width="1.2"/>
<line x1="67.00" y1="436.00" x2="72.00" y2="436.00" stroke="#000000" stroke-width="1.5"/>
<line x1="67.00" y1="460.00" x2="72.00" y2="460.00" stroke="#000000" stroke-width="1.5"/>
<line x1="78.50" y1="466.00" x2="78.50" y2="481.00" stroke="#000000" stroke-width="1.2"/>
<line x1="76.00" y1="466.00" x2="81.00" y2="466.00" stroke="#000000" stroke-width="1.5"/>
<line x1="76.00" y1="481.00" x2="81.00" y2="481.00" stroke="#000000" stroke-width="1.5"/>
<line x1="88.50" y1="474.00" x2="88.50" y2="487.00" stroke="#000000" stroke-width="1.2"/>
<line x1="86.00" y1="474.00" x2="91.00" y2="474.00" stroke="#000000" stroke-width="1.5"/>
<line x1="86.00" y1="487.00" x2="91.00" y2="487.00" stroke="#000000" stroke-width="1.5"/>
<line x1="98.50" y1="470.00" x2="98.50" y2="484.00" stroke="#000000" stroke-width="1.2"/>
<line x1="96.00" y1="470.00" x2="101.00" y2="470.00" stroke="#000000" stroke-width="1.5"/>
<line x1="96.00" y1="484.00" x2="101.00" y2="484.00" stroke="#000000" stroke-width="1.5"/>
<line x1="142.50" y1="454.00" x2="142.50" y2="468.00" stroke="#000000" stroke-width="1.2"/>
<line x1="140.00" y1="454.00" x2="145.00" y2="454.00" stroke="#000000" stroke-width="1.5"/>
<line x1="140.00" y1="468.00" x2="145.00" y2="468.00" stroke="#000000" stroke-width="1.5"/>
<line x1="183.50" y1="463.00" x2="183.50" y2="472.00" stroke="#000000" stroke-width="1.2"/>
<line x1="181.00" y1="463.00" x2="186.00" y2="463.00" stroke="#000000" stroke-width="1.5"/>
<line x1="181.00" y1="472.00" x2="186.00" y2="472.00" stroke="#000000" stroke-width="1.5"/>
<rect x="43.00" y="456.70" width="5" height="5" fill="#000000"/>
<rect x="57.00" y="527.00" width="5" height="5" fill="#000000"/>
<rect x="61.00" y="524.90" width="5" height="5" fill="#000000"/>
<rect x="67.00" y="445.50" width="5" height="5" fill="#000000"/>
<rect x="76.00" y="472.60" width="5" height="5" fill="#000000"/>
<rect x="86.00" y="478.70" width="5" height="5" fill="#000000"/>
<rect x="96.00" y="474.90" width="5" height="5" fill="#000000"/>
<rect x="140.00" y="459.10" width="5" height="5" fill="#000000"/>
<rect x="181.00" y="465.10" width="5" height="5" fill="#000000"/>
<rect x="43.00" y="413.50" width="5" height="5" fill="#cc0216"/>
<rect x="57.00" y="528.30" width="5" height="5" fill="#cc0216"/>
<rect x="61.00" y="529.70" width="5" height="5" fill="#cc0216"/>
<rect x="67.00" y="473.50" width="5" height="5" fill="#cc0216"/>
<rect x="76.00" y="513.90" width="5" height="5" fill="#cc0216"/>
<rect x="86.00" y="506.60" width="5" height="5" fill="#cc0216"/>
<rect x="96.00" y="511.50" width="5" height="5" fill="#cc0216"/>
<rect x="140.00" y="478.40" width="5" height="5" fill="#cc0216"/>
<rect x="181.00" y="470.60" width="5" height="5" fill="#cc0216"/>
</g>
<text x="59.50" y="546.20" font-size="8.9" text-anchor="middle" fill="#111" stroke="#111" stroke-width="0.12">0</text>
<text x="100.83" y="546.20" font-size="8.9" text-anchor="middle" fill="#111" stroke="#111" stroke-width="0.12">30</text>
<text x="142.17" y="546.20" font-size="8.9" text-anchor="middle" fill="#111" stroke="#111" stroke-width="0.12">60</text>
<text x="183.50" y="546.20" font-size="8.9" text-anchor="middle" fill="#111" stroke="#111" stroke-width="0.12">90</text>
<text x="113.41" y="560.40" font-size="10.8" font-weight="bold" text-anchor="middle" textLength="15.4" lengthAdjust="spacingAndGlyphs" fill="#111">Days</text>
<text x="38.32" y="397.10" font-size="8.9" text-anchor="end" fill="#111" stroke="#111" stroke-width="0.12">1.0</text>
<text x="38.32" y="466.25" font-size="8.9" text-anchor="end" fill="#111" stroke="#111" stroke-width="0.12">0.5</text>
<text x="38.32" y="535.40" font-size="8.9" text-anchor="end" fill="#111" stroke="#111" stroke-width="0.12">0.0</text>
<text transform="translate(19.00,457.50) rotate(-90)" font-size="10" text-anchor="middle" textLength="72.5" lengthAdjust="spacingAndGlyphs" fill="#111" stroke="#111" stroke-width="0.2">Abs. monocytes (K/uL)</text>
<rect x="203.50" y="393.40" width="13.40" height="138.60" fill="#cfccc1"/>
<rect x="216.90" y="400.83" width="125.10" height="89.59" fill="#f2f6f7"/>
<line x1="203.00" y1="400.50" x2="342.00" y2="400.50" stroke="#000" stroke-width="1.2" stroke-dasharray="1.3 1.05"/>
<line x1="203.00" y1="490.50" x2="342.00" y2="490.50" stroke="#000" stroke-width="1.2" stroke-dasharray="1.3 1.05"/>
<text transform="translate(213.60,424.80) rotate(-90)" font-size="9.5" textLength="25.20" lengthAdjust="spacingAndGlyphs" fill="#000" stroke="#000" stroke-width="0.15">Pre-LD</text>
<line x1="203.50" y1="393.40" x2="203.50" y2="533.10" stroke="#000" stroke-width="1.25"/>
<line x1="199.90" y1="532.50" x2="343.10" y2="532.50" stroke="#000" stroke-width="1.25"/>
<line x1="199.90" y1="393.50" x2="203.50" y2="393.50" stroke="#000" stroke-width="1.1"/>
<line x1="199.90" y1="462.50" x2="203.50" y2="462.50" stroke="#000" stroke-width="1.1"/>
<line x1="216.50" y1="532.50" x2="216.50" y2="535.70" stroke="#000" stroke-width="1.1"/>
<line x1="230.50" y1="532.50" x2="230.50" y2="535.70" stroke="#000" stroke-width="1.1"/>
<line x1="244.50" y1="532.50" x2="244.50" y2="535.70" stroke="#000" stroke-width="1.1"/>
<line x1="258.50" y1="532.50" x2="258.50" y2="535.70" stroke="#000" stroke-width="1.1"/>
<line x1="272.50" y1="532.50" x2="272.50" y2="535.70" stroke="#000" stroke-width="1.1"/>
<line x1="286.50" y1="532.50" x2="286.50" y2="535.70" stroke="#000" stroke-width="1.1"/>
<line x1="300.50" y1="532.50" x2="300.50" y2="535.70" stroke="#000" stroke-width="1.1"/>
<line x1="314.50" y1="532.50" x2="314.50" y2="535.70" stroke="#000" stroke-width="1.1"/>
<line x1="328.50" y1="532.50" x2="328.50" y2="535.70" stroke="#000" stroke-width="1.1"/>
<line x1="342.50" y1="532.50" x2="342.50" y2="535.70" stroke="#000" stroke-width="1.1"/>
<clipPath id="c32"><rect x="199.00" y="393.40" width="147.00" height="142.60"/></clipPath>
<g clip-path="url(#c32)">
<polyline points="203.00,446.30 216.90,530.80 221.07,531.60 226.63,505.40 236.36,512.00 246.09,506.80 255.82,504.80 300.30,450.00 342.00,444.20" fill="none" stroke="#0a2dc8" stroke-width="2.0" stroke-linejoin="miter"/>
<line x1="203.50" y1="391.40" x2="203.50" y2="524.00" stroke="#0a2dc8" stroke-width="1.2"/>
<line x1="201.00" y1="524.00" x2="206.00" y2="524.00" stroke="#0a2dc8" stroke-width="1.5"/>
<line x1="216.50" y1="529.00" x2="216.50" y2="533.00" stroke="#0a2dc8" stroke-width="1.2"/>
<line x1="214.00" y1="529.00" x2="219.00" y2="529.00" stroke="#0a2dc8" stroke-width="1.5"/>
<line x1="214.00" y1="533.00" x2="219.00" y2="533.00" stroke="#0a2dc8" stroke-width="1.5"/>
<line x1="221.50" y1="526.00" x2="221.50" y2="533.00" stroke="#0a2dc8" stroke-width="1.2"/>
<line x1="219.00" y1="526.00" x2="224.00" y2="526.00" stroke="#0a2dc8" stroke-width="1.5"/>
<line x1="219.00" y1="533.00" x2="224.00" y2="533.00" stroke="#0a2dc8" stroke-width="1.5"/>
<line x1="226.50" y1="416.00" x2="226.50" y2="530.00" stroke="#0a2dc8" stroke-width="1.2"/>
<line x1="224.00" y1="416.00" x2="229.00" y2="416.00" stroke="#0a2dc8" stroke-width="1.5"/>
<line x1="224.00" y1="530.00" x2="229.00" y2="530.00" stroke="#0a2dc8" stroke-width="1.5"/>
<line x1="236.50" y1="445.00" x2="236.50" y2="526.00" stroke="#0a2dc8" stroke-width="1.2"/>
<line x1="234.00" y1="445.00" x2="239.00" y2="445.00" stroke="#0a2dc8" stroke-width="1.5"/>
<line x1="234.00" y1="526.00" x2="239.00" y2="526.00" stroke="#0a2dc8" stroke-width="1.5"/>
<line x1="246.50" y1="474.00" x2="246.50" y2="527.00" stroke="#0a2dc8" stroke-width="1.2"/>
<line x1="244.00" y1="474.00" x2="249.00" y2="474.00" stroke="#0a2dc8" stroke-width="1.5"/>
<line x1="244.00" y1="527.00" x2="249.00" y2="527.00" stroke="#0a2dc8" stroke-width="1.5"/>
<line x1="255.50" y1="391.40" x2="255.50" y2="521.00" stroke="#0a2dc8" stroke-width="1.2"/>
<line x1="253.00" y1="521.00" x2="258.00" y2="521.00" stroke="#0a2dc8" stroke-width="1.5"/>
<line x1="300.50" y1="391.40" x2="300.50" y2="477.00" stroke="#0a2dc8" stroke-width="1.2"/>
<line x1="298.00" y1="477.00" x2="303.00" y2="477.00" stroke="#0a2dc8" stroke-width="1.5"/>
<line x1="342.50" y1="441.00" x2="342.50" y2="490.00" stroke="#0a2dc8" stroke-width="1.2"/>
<line x1="340.00" y1="441.00" x2="345.00" y2="441.00" stroke="#0a2dc8" stroke-width="1.5"/>
<line x1="340.00" y1="490.00" x2="345.00" y2="490.00" stroke="#0a2dc8" stroke-width="1.5"/>
<polyline points="203.00,457.20 216.90,529.30 221.07,527.90 226.63,447.10 236.36,476.00 246.09,480.30 255.82,478.00 300.30,461.00 342.00,467.30" fill="none" stroke="#000000" stroke-width="2.0" stroke-linejoin="miter"/>
<line x1="203.50" y1="453.00" x2="203.50" y2="463.00" stroke="#000000" stroke-width="1.2"/>
<line x1="201.00" y1="453.00" x2="206.00" y2="453.00" stroke="#000000" stroke-width="1.5"/>
<line x1="201.00" y1="463.00" x2="206.00" y2="463.00" stroke="#000000" stroke-width="1.5"/>
<line x1="216.50" y1="527.00" x2="216.50" y2="533.00" stroke="#000000" stroke-width="1.2"/>
<line x1="214.00" y1="527.00" x2="219.00" y2="527.00" stroke="#000000" stroke-width="1.5"/>
<line x1="214.00" y1="533.00" x2="219.00" y2="533.00" stroke="#000000" stroke-width="1.5"/>
<line x1="221.50" y1="525.00" x2="221.50" y2="532.00" stroke="#000000" stroke-width="1.2"/>
<line x1="219.00" y1="525.00" x2="224.00" y2="525.00" stroke="#000000" stroke-width="1.5"/>
<line x1="219.00" y1="532.00" x2="224.00" y2="532.00" stroke="#000000" stroke-width="1.5"/>
<line x1="226.50" y1="440.00" x2="226.50" y2="463.00" stroke="#000000" stroke-width="1.2"/>
<line x1="224.00" y1="440.00" x2="229.00" y2="440.00" stroke="#000000" stroke-width="1.5"/>
<line x1="224.00" y1="463.00" x2="229.00" y2="463.00" stroke="#000000" stroke-width="1.5"/>
<line x1="236.50" y1="468.00" x2="236.50" y2="482.00" stroke="#000000" stroke-width="1.2"/>
<line x1="234.00" y1="468.00" x2="239.00" y2="468.00" stroke="#000000" stroke-width="1.5"/>
<line x1="234.00" y1="482.00" x2="239.00" y2="482.00" stroke="#000000" stroke-width="1.5"/>
<line x1="246.50" y1="474.00" x2="246.50" y2="487.00" stroke="#000000" stroke-width="1.2"/>
<line x1="244.00" y1="474.00" x2="249.00" y2="474.00" stroke="#000000" stroke-width="1.5"/>
<line x1="244.00" y1="487.00" x2="249.00" y2="487.00" stroke="#000000" stroke-width="1.5"/>
<line x1="255.50" y1="472.00" x2="255.50" y2="484.00" stroke="#000000" stroke-width="1.2"/>
<line x1="253.00" y1="472.00" x2="258.00" y2="472.00" stroke="#000000" stroke-width="1.5"/>
<line x1="253.00" y1="484.00" x2="258.00" y2="484.00" stroke="#000000" stroke-width="1.5"/>
<line x1="300.50" y1="455.00" x2="300.50" y2="469.00" stroke="#000000" stroke-width="1.2"/>
<line x1="298.00" y1="455.00" x2="303.00" y2="455.00" stroke="#000000" stroke-width="1.5"/>
<line x1="298.00" y1="469.00" x2="303.00" y2="469.00" stroke="#000000" stroke-width="1.5"/>
<line x1="342.50" y1="462.00" x2="342.50" y2="474.00" stroke="#000000" stroke-width="1.2"/>
<line x1="340.00" y1="462.00" x2="345.00" y2="462.00" stroke="#000000" stroke-width="1.5"/>
<line x1="340.00" y1="474.00" x2="345.00" y2="474.00" stroke="#000000" stroke-width="1.5"/>
<rect x="201.00" y="454.70" width="5" height="5" fill="#000000"/>
<rect x="214.00" y="526.80" width="5" height="5" fill="#000000"/>
<rect x="219.00" y="525.40" width="5" height="5" fill="#000000"/>
<rect x="224.00" y="444.60" width="5" height="5" fill="#000000"/>
<rect x="234.00" y="473.50" width="5" height="5" fill="#000000"/>
<rect x="244.00" y="477.80" width="5" height="5" fill="#000000"/>
<rect x="253.00" y="475.50" width="5" height="5" fill="#000000"/>
<rect x="298.00" y="458.50" width="5" height="5" fill="#000000"/>
<rect x="340.00" y="464.80" width="5" height="5" fill="#000000"/>
<rect x="201.00" y="443.80" width="5" height="5" fill="#0a2dc8"/>
<rect x="214.00" y="528.30" width="5" height="5" fill="#0a2dc8"/>
<rect x="219.00" y="529.10" width="5" height="5" fill="#0a2dc8"/>
<rect x="224.00" y="502.90" width="5" height="5" fill="#0a2dc8"/>
<rect x="234.00" y="509.50" width="5" height="5" fill="#0a2dc8"/>
<rect x="244.00" y="504.30" width="5" height="5" fill="#0a2dc8"/>
<rect x="253.00" y="502.30" width="5" height="5" fill="#0a2dc8"/>
<rect x="298.00" y="447.50" width="5" height="5" fill="#0a2dc8"/>
<rect x="340.00" y="441.70" width="5" height="5" fill="#0a2dc8"/>
</g>
<text x="216.90" y="545.90" font-size="8.9" text-anchor="middle" fill="#111" stroke="#111" stroke-width="0.12">0</text>
<text x="258.60" y="545.90" font-size="8.9" text-anchor="middle" fill="#111" stroke="#111" stroke-width="0.12">30</text>
<text x="300.30" y="545.90" font-size="8.9" text-anchor="middle" fill="#111" stroke="#111" stroke-width="0.12">60</text>
<text x="342.00" y="545.90" font-size="8.9" text-anchor="middle" fill="#111" stroke="#111" stroke-width="0.12">90</text>
<text x="271.30" y="560.10" font-size="10.8" font-weight="bold" text-anchor="middle" textLength="15.4" lengthAdjust="spacingAndGlyphs" fill="#111">Days</text>
<rect x="366.50" y="392.00" width="14.40" height="140.30" fill="#cfccc1"/>
<rect x="380.90" y="399.51" width="126.40" height="90.69" fill="#f2f6f7"/>
<line x1="366.86" y1="399.50" x2="507.30" y2="399.50" stroke="#000" stroke-width="1.2" stroke-dasharray="1.3 1.05"/>
<line x1="366.86" y1="490.50" x2="507.30" y2="490.50" stroke="#000" stroke-width="1.2" stroke-dasharray="1.3 1.05"/>
<text transform="translate(376.40,423.60) rotate(-90)" font-size="9.5" textLength="24.90" lengthAdjust="spacingAndGlyphs" fill="#000" stroke="#000" stroke-width="0.15">Pre-LD</text>
<line x1="366.50" y1="392.00" x2="366.50" y2="533.10" stroke="#000" stroke-width="1.25"/>
<line x1="362.90" y1="532.50" x2="508.10" y2="532.50" stroke="#000" stroke-width="1.25"/>
<line x1="362.90" y1="392.50" x2="366.50" y2="392.50" stroke="#000" stroke-width="1.1"/>
<line x1="362.90" y1="462.50" x2="366.50" y2="462.50" stroke="#000" stroke-width="1.1"/>
<line x1="380.50" y1="532.50" x2="380.50" y2="535.70" stroke="#000" stroke-width="1.1"/>
<line x1="394.50" y1="532.50" x2="394.50" y2="535.70" stroke="#000" stroke-width="1.1"/>
<line x1="408.50" y1="532.50" x2="408.50" y2="535.70" stroke="#000" stroke-width="1.1"/>
<line x1="423.50" y1="532.50" x2="423.50" y2="535.70" stroke="#000" stroke-width="1.1"/>
<line x1="437.50" y1="532.50" x2="437.50" y2="535.70" stroke="#000" stroke-width="1.1"/>
<line x1="451.50" y1="532.50" x2="451.50" y2="535.70" stroke="#000" stroke-width="1.1"/>
<line x1="465.50" y1="532.50" x2="465.50" y2="535.70" stroke="#000" stroke-width="1.1"/>
<line x1="479.50" y1="532.50" x2="479.50" y2="535.70" stroke="#000" stroke-width="1.1"/>
<line x1="493.50" y1="532.50" x2="493.50" y2="535.70" stroke="#000" stroke-width="1.1"/>
<line x1="507.50" y1="532.50" x2="507.50" y2="535.70" stroke="#000" stroke-width="1.1"/>
<clipPath id="c33"><rect x="362.86" y="392.00" width="148.44" height="144.30"/></clipPath>
<g clip-path="url(#c33)">
<polyline points="366.86,450.90 380.90,531.40 385.11,531.60 390.73,469.30 400.56,488.40 410.39,499.90 420.22,495.60 465.17,458.70 507.30,474.00" fill="none" stroke="#046612" stroke-width="2.0" stroke-linejoin="miter"/>
<line x1="366.50" y1="422.00" x2="366.50" y2="477.00" stroke="#046612" stroke-width="1.2"/>
<line x1="364.00" y1="422.00" x2="369.00" y2="422.00" stroke="#046612" stroke-width="1.5"/>
<line x1="364.00" y1="477.00" x2="369.00" y2="477.00" stroke="#046612" stroke-width="1.5"/>
<line x1="380.50" y1="530.00" x2="380.50" y2="533.00" stroke="#046612" stroke-width="1.2"/>
<line x1="378.00" y1="530.00" x2="383.00" y2="530.00" stroke="#046612" stroke-width="1.5"/>
<line x1="378.00" y1="533.00" x2="383.00" y2="533.00" stroke="#046612" stroke-width="1.5"/>
<line x1="385.50" y1="530.00" x2="385.50" y2="533.00" stroke="#046612" stroke-width="1.2"/>
<line x1="383.00" y1="530.00" x2="388.00" y2="530.00" stroke="#046612" stroke-width="1.5"/>
<line x1="383.00" y1="533.00" x2="388.00" y2="533.00" stroke="#046612" stroke-width="1.5"/>
<line x1="390.50" y1="448.00" x2="390.50" y2="503.00" stroke="#046612" stroke-width="1.2"/>
<line x1="388.00" y1="448.00" x2="393.00" y2="448.00" stroke="#046612" stroke-width="1.5"/>
<line x1="388.00" y1="503.00" x2="393.00" y2="503.00" stroke="#046612" stroke-width="1.5"/>
<line x1="400.50" y1="472.00" x2="400.50" y2="512.00" stroke="#046612" stroke-width="1.2"/>
<line x1="398.00" y1="472.00" x2="403.00" y2="472.00" stroke="#046612" stroke-width="1.5"/>
<line x1="398.00" y1="512.00" x2="403.00" y2="512.00" stroke="#046612" stroke-width="1.5"/>
<line x1="410.50" y1="493.00" x2="410.50" y2="515.00" stroke="#046612" stroke-width="1.2"/>
<line x1="408.00" y1="493.00" x2="413.00" y2="493.00" stroke="#046612" stroke-width="1.5"/>
<line x1="408.00" y1="515.00" x2="413.00" y2="515.00" stroke="#046612" stroke-width="1.5"/>
<line x1="420.50" y1="483.00" x2="420.50" y2="510.00" stroke="#046612" stroke-width="1.2"/>
<line x1="418.00" y1="483.00" x2="423.00" y2="483.00" stroke="#046612" stroke-width="1.5"/>
<line x1="418.00" y1="510.00" x2="423.00" y2="510.00" stroke="#046612" stroke-width="1.5"/>
<line x1="465.50" y1="444.00" x2="465.50" y2="490.00" stroke="#046612" stroke-width="1.2"/>
<line x1="463.00" y1="444.00" x2="468.00" y2="444.00" stroke="#046612" stroke-width="1.5"/>
<line x1="463.00" y1="490.00" x2="468.00" y2="490.00" stroke="#046612" stroke-width="1.5"/>
<line x1="507.50" y1="440.00" x2="507.50" y2="494.00" stroke="#046612" stroke-width="1.2"/>
<line x1="505.00" y1="440.00" x2="510.00" y2="440.00" stroke="#046612" stroke-width="1.5"/>
<line x1="505.00" y1="494.00" x2="510.00" y2="494.00" stroke="#046612" stroke-width="1.5"/>
<rect x="364.00" y="448.40" width="5" height="5" fill="#046612"/>
<rect x="378.00" y="528.90" width="5" height="5" fill="#046612"/>
<rect x="383.00" y="529.10" width="5" height="5" fill="#046612"/>
<rect x="388.00" y="466.80" width="5" height="5" fill="#046612"/>
<rect x="398.00" y="485.90" width="5" height="5" fill="#046612"/>
<rect x="408.00" y="497.40" width="5" height="5" fill="#046612"/>
<rect x="418.00" y="493.10" width="5" height="5" fill="#046612"/>
<rect x="463.00" y="456.20" width="5" height="5" fill="#046612"/>
<rect x="505.00" y="471.50" width="5" height="5" fill="#046612"/>
<polyline points="366.86,457.20 380.90,529.30 385.11,527.00 390.73,442.20 400.56,471.10 410.39,478.90 420.22,473.70 465.17,460.10 507.30,465.30" fill="none" stroke="#ff7a05" stroke-width="2.0" stroke-linejoin="miter"/>
<line x1="366.50" y1="453.00" x2="366.50" y2="463.00" stroke="#ff7a05" stroke-width="1.2"/>
<line x1="364.00" y1="453.00" x2="369.00" y2="453.00" stroke="#ff7a05" stroke-width="1.5"/>
<line x1="364.00" y1="463.00" x2="369.00" y2="463.00" stroke="#ff7a05" stroke-width="1.5"/>
<line x1="380.50" y1="527.00" x2="380.50" y2="533.00" stroke="#ff7a05" stroke-width="1.2"/>
<line x1="378.00" y1="527.00" x2="383.00" y2="527.00" stroke="#ff7a05" stroke-width="1.5"/>
<line x1="378.00" y1="533.00" x2="383.00" y2="533.00" stroke="#ff7a05" stroke-width="1.5"/>
<line x1="385.50" y1="525.00" x2="385.50" y2="532.00" stroke="#ff7a05" stroke-width="1.2"/>
<line x1="383.00" y1="525.00" x2="388.00" y2="525.00" stroke="#ff7a05" stroke-width="1.5"/>
<line x1="383.00" y1="532.00" x2="388.00" y2="532.00" stroke="#ff7a05" stroke-width="1.5"/>
<line x1="390.50" y1="430.00" x2="390.50" y2="454.00" stroke="#ff7a05" stroke-width="1.2"/>
<line x1="388.00" y1="430.00" x2="393.00" y2="430.00" stroke="#ff7a05" stroke-width="1.5"/>
<line x1="388.00" y1="454.00" x2="393.00" y2="454.00" stroke="#ff7a05" stroke-width="1.5"/>
<line x1="400.50" y1="466.00" x2="400.50" y2="477.00" stroke="#ff7a05" stroke-width="1.2"/>
<line x1="398.00" y1="466.00" x2="403.00" y2="466.00" stroke="#ff7a05" stroke-width="1.5"/>
<line x1="398.00" y1="477.00" x2="403.00" y2="477.00" stroke="#ff7a05" stroke-width="1.5"/>
<line x1="410.50" y1="470.00" x2="410.50" y2="484.00" stroke="#ff7a05" stroke-width="1.2"/>
<line x1="408.00" y1="470.00" x2="413.00" y2="470.00" stroke="#ff7a05" stroke-width="1.5"/>
<line x1="408.00" y1="484.00" x2="413.00" y2="484.00" stroke="#ff7a05" stroke-width="1.5"/>
<line x1="420.50" y1="468.00" x2="420.50" y2="484.00" stroke="#ff7a05" stroke-width="1.2"/>
<line x1="418.00" y1="468.00" x2="423.00" y2="468.00" stroke="#ff7a05" stroke-width="1.5"/>
<line x1="418.00" y1="484.00" x2="423.00" y2="484.00" stroke="#ff7a05" stroke-width="1.5"/>
<line x1="465.50" y1="453.00" x2="465.50" y2="468.00" stroke="#ff7a05" stroke-width="1.2"/>
<line x1="463.00" y1="453.00" x2="468.00" y2="453.00" stroke="#ff7a05" stroke-width="1.5"/>
<line x1="463.00" y1="468.00" x2="468.00" y2="468.00" stroke="#ff7a05" stroke-width="1.5"/>
<line x1="507.50" y1="461.00" x2="507.50" y2="471.00" stroke="#ff7a05" stroke-width="1.2"/>
<line x1="505.00" y1="461.00" x2="510.00" y2="461.00" stroke="#ff7a05" stroke-width="1.5"/>
<line x1="505.00" y1="471.00" x2="510.00" y2="471.00" stroke="#ff7a05" stroke-width="1.5"/>
<rect x="364.00" y="454.70" width="5" height="5" fill="#ff7a05"/>
<rect x="378.00" y="526.80" width="5" height="5" fill="#ff7a05"/>
<rect x="383.00" y="524.50" width="5" height="5" fill="#ff7a05"/>
<rect x="388.00" y="439.70" width="5" height="5" fill="#ff7a05"/>
<rect x="398.00" y="468.60" width="5" height="5" fill="#ff7a05"/>
<rect x="408.00" y="476.40" width="5" height="5" fill="#ff7a05"/>
<rect x="418.00" y="471.20" width="5" height="5" fill="#ff7a05"/>
<rect x="463.00" y="457.60" width="5" height="5" fill="#ff7a05"/>
<rect x="505.00" y="462.80" width="5" height="5" fill="#ff7a05"/>
</g>
<text x="380.90" y="546.20" font-size="8.9" text-anchor="middle" fill="#111" stroke="#111" stroke-width="0.12">0</text>
<text x="423.03" y="546.20" font-size="8.9" text-anchor="middle" fill="#111" stroke="#111" stroke-width="0.12">30</text>
<text x="465.17" y="546.20" font-size="8.9" text-anchor="middle" fill="#111" stroke="#111" stroke-width="0.12">60</text>
<text x="507.30" y="546.20" font-size="8.9" text-anchor="middle" fill="#111" stroke="#111" stroke-width="0.12">90</text>
<text x="435.88" y="560.40" font-size="10.8" font-weight="bold" text-anchor="middle" textLength="15.4" lengthAdjust="spacingAndGlyphs" fill="#111">Days</text>
<rect x="45.50" y="578.10" width="14.00" height="136.20" fill="#cfccc1"/>
<rect x="59.50" y="702.81" width="122.20" height="11.49" fill="#f2f6f7"/>
<line x1="45.92" y1="702.50" x2="181.70" y2="702.50" stroke="#000" stroke-width="1.2" stroke-dasharray="1.3 1.05"/>
<text transform="translate(55.00,707.50) rotate(-90)" font-size="9.5" textLength="25.70" lengthAdjust="spacingAndGlyphs" fill="#000" stroke="#000" stroke-width="0.15">Pre-LD</text>
<line x1="45.50" y1="578.10" x2="45.50" y2="715.10" stroke="#000" stroke-width="1.25"/>
<line x1="41.90" y1="714.50" x2="182.10" y2="714.50" stroke="#000" stroke-width="1.25"/>
<line x1="41.90" y1="578.50" x2="45.50" y2="578.50" stroke="#000" stroke-width="1.1"/>
<line x1="41.90" y1="646.50" x2="45.50" y2="646.50" stroke="#000" stroke-width="1.1"/>
<line x1="59.50" y1="714.50" x2="59.50" y2="717.70" stroke="#000" stroke-width="1.1"/>
<line x1="73.50" y1="714.50" x2="73.50" y2="717.70" stroke="#000" stroke-width="1.1"/>
<line x1="86.50" y1="714.50" x2="86.50" y2="717.70" stroke="#000" stroke-width="1.1"/>
<line x1="100.50" y1="714.50" x2="100.50" y2="717.70" stroke="#000" stroke-width="1.1"/>
<line x1="113.50" y1="714.50" x2="113.50" y2="717.70" stroke="#000" stroke-width="1.1"/>
<line x1="127.50" y1="714.50" x2="127.50" y2="717.70" stroke="#000" stroke-width="1.1"/>
<line x1="140.50" y1="714.50" x2="140.50" y2="717.70" stroke="#000" stroke-width="1.1"/>
<line x1="154.50" y1="714.50" x2="154.50" y2="717.70" stroke="#000" stroke-width="1.1"/>
<line x1="168.50" y1="714.50" x2="168.50" y2="717.70" stroke="#000" stroke-width="1.1"/>
<line x1="181.50" y1="714.50" x2="181.50" y2="717.70" stroke="#000" stroke-width="1.1"/>
<line x1="45.50" y1="714.50" x2="45.50" y2="717.30" stroke="#000" stroke-width="1.1"/>
<clipPath id="c41"><rect x="41.92" y="578.10" width="143.78" height="140.20"/></clipPath>
<g clip-path="url(#c41)">
<polyline points="45.92,643.00 59.50,631.10 63.57,635.80 69.00,615.30 78.51,612.70 88.01,617.00 97.52,624.20 140.97,621.90 181.70,648.50" fill="none" stroke="#cc0216" stroke-width="2.0" stroke-linejoin="miter"/>
<line x1="45.50" y1="604.00" x2="45.50" y2="651.00" stroke="#cc0216" stroke-width="1.2"/>
<line x1="43.00" y1="604.00" x2="48.00" y2="604.00" stroke="#cc0216" stroke-width="1.5"/>
<line x1="43.00" y1="651.00" x2="48.00" y2="651.00" stroke="#cc0216" stroke-width="1.5"/>
<line x1="59.50" y1="597.00" x2="59.50" y2="657.00" stroke="#cc0216" stroke-width="1.2"/>
<line x1="57.00" y1="597.00" x2="62.00" y2="597.00" stroke="#cc0216" stroke-width="1.5"/>
<line x1="57.00" y1="657.00" x2="62.00" y2="657.00" stroke="#cc0216" stroke-width="1.5"/>
<line x1="63.50" y1="597.00" x2="63.50" y2="667.00" stroke="#cc0216" stroke-width="1.2"/>
<line x1="61.00" y1="597.00" x2="66.00" y2="597.00" stroke="#cc0216" stroke-width="1.5"/>
<line x1="61.00" y1="667.00" x2="66.00" y2="667.00" stroke="#cc0216" stroke-width="1.5"/>
<line x1="69.50" y1="597.00" x2="69.50" y2="666.00" stroke="#cc0216" stroke-width="1.2"/>
<line x1="67.00" y1="597.00" x2="72.00" y2="597.00" stroke="#cc0216" stroke-width="1.5"/>
<line x1="67.00" y1="666.00" x2="72.00" y2="666.00" stroke="#cc0216" stroke-width="1.5"/>
<line x1="78.50" y1="586.00" x2="78.50" y2="659.00" stroke="#cc0216" stroke-width="1.2"/>
<line x1="76.00" y1="586.00" x2="81.00" y2="586.00" stroke="#cc0216" stroke-width="1.5"/>
<line x1="76.00" y1="659.00" x2="81.00" y2="659.00" stroke="#cc0216" stroke-width="1.5"/>
<line x1="88.50" y1="606.00" x2="88.50" y2="636.00" stroke="#cc0216" stroke-width="1.2"/>
<line x1="86.00" y1="606.00" x2="91.00" y2="606.00" stroke="#cc0216" stroke-width="1.5"/>
<line x1="86.00" y1="636.00" x2="91.00" y2="636.00" stroke="#cc0216" stroke-width="1.5"/>
<line x1="97.50" y1="592.00" x2="97.50" y2="663.00" stroke="#cc0216" stroke-width="1.2"/>
<line x1="95.00" y1="592.00" x2="100.00" y2="592.00" stroke="#cc0216" stroke-width="1.5"/>
<line x1="95.00" y1="663.00" x2="100.00" y2="663.00" stroke="#cc0216" stroke-width="1.5"/>
<line x1="140.50" y1="604.00" x2="140.50" y2="642.00" stroke="#cc0216" stroke-width="1.2"/>
<line x1="138.00" y1="604.00" x2="143.00" y2="604.00" stroke="#cc0216" stroke-width="1.5"/>
<line x1="138.00" y1="642.00" x2="143.00" y2="642.00" stroke="#cc0216" stroke-width="1.5"/>
<line x1="181.50" y1="600.00" x2="181.50" y2="678.00" stroke="#cc0216" stroke-width="1.2"/>
<line x1="179.00" y1="600.00" x2="184.00" y2="600.00" stroke="#cc0216" stroke-width="1.5"/>
<line x1="179.00" y1="678.00" x2="184.00" y2="678.00" stroke="#cc0216" stroke-width="1.5"/>
<rect x="43.00" y="640.50" width="5" height="5" fill="#cc0216"/>
<rect x="57.00" y="628.60" width="5" height="5" fill="#cc0216"/>
<rect x="61.00" y="633.30" width="5" height="5" fill="#cc0216"/>
<rect x="67.00" y="612.80" width="5" height="5" fill="#cc0216"/>
<rect x="76.00" y="610.20" width="5" height="5" fill="#cc0216"/>
<rect x="86.00" y="614.50" width="5" height="5" fill="#cc0216"/>
<rect x="95.00" y="621.70" width="5" height="5" fill="#cc0216"/>
<rect x="138.00" y="619.40" width="5" height="5" fill="#cc0216"/>
<rect x="179.00" y="646.00" width="5" height="5" fill="#cc0216"/>
<polyline points="45.92,661.40 59.50,652.20 63.57,653.60 69.00,644.60 78.51,636.90 88.01,641.20 97.52,647.90 140.97,664.30 181.70,672.40" fill="none" stroke="#000000" stroke-width="2.0" stroke-linejoin="miter"/>
<line x1="45.50" y1="656.00" x2="45.50" y2="676.00" stroke="#000000" stroke-width="1.2"/>
<line x1="43.00" y1="656.00" x2="48.00" y2="656.00" stroke="#000000" stroke-width="1.5"/>
<line x1="43.00" y1="676.00" x2="48.00" y2="676.00" stroke="#000000" stroke-width="1.5"/>
<line x1="59.50" y1="643.00" x2="59.50" y2="659.00" stroke="#000000" stroke-width="1.2"/>
<line x1="57.00" y1="643.00" x2="62.00" y2="643.00" stroke="#000000" stroke-width="1.5"/>
<line x1="57.00" y1="659.00" x2="62.00" y2="659.00" stroke="#000000" stroke-width="1.5"/>
<line x1="63.50" y1="647.00" x2="63.50" y2="662.00" stroke="#000000" stroke-width="1.2"/>
<line x1="61.00" y1="647.00" x2="66.00" y2="647.00" stroke="#000000" stroke-width="1.5"/>
<line x1="61.00" y1="662.00" x2="66.00" y2="662.00" stroke="#000000" stroke-width="1.5"/>
<line x1="69.50" y1="639.00" x2="69.50" y2="654.00" stroke="#000000" stroke-width="1.2"/>
<line x1="67.00" y1="639.00" x2="72.00" y2="639.00" stroke="#000000" stroke-width="1.5"/>
<line x1="67.00" y1="654.00" x2="72.00" y2="654.00" stroke="#000000" stroke-width="1.5"/>
<line x1="78.50" y1="627.00" x2="78.50" y2="651.00" stroke="#000000" stroke-width="1.2"/>
<line x1="76.00" y1="627.00" x2="81.00" y2="627.00" stroke="#000000" stroke-width="1.5"/>
<line x1="76.00" y1="651.00" x2="81.00" y2="651.00" stroke="#000000" stroke-width="1.5"/>
<line x1="88.50" y1="633.00" x2="88.50" y2="657.00" stroke="#000000" stroke-width="1.2"/>
<line x1="86.00" y1="633.00" x2="91.00" y2="633.00" stroke="#000000" stroke-width="1.5"/>
<line x1="86.00" y1="657.00" x2="91.00" y2="657.00" stroke="#000000" stroke-width="1.5"/>
<line x1="97.50" y1="636.00" x2="97.50" y2="651.00" stroke="#000000" stroke-width="1.2"/>
<line x1="95.00" y1="636.00" x2="100.00" y2="636.00" stroke="#000000" stroke-width="1.5"/>
<line x1="95.00" y1="651.00" x2="100.00" y2="651.00" stroke="#000000" stroke-width="1.5"/>
<line x1="140.50" y1="642.00" x2="140.50" y2="680.00" stroke="#000000" stroke-width="1.2"/>
<line x1="138.00" y1="642.00" x2="143.00" y2="642.00" stroke="#000000" stroke-width="1.5"/>
<line x1="138.00" y1="680.00" x2="143.00" y2="680.00" stroke="#000000" stroke-width="1.5"/>
<line x1="181.50" y1="652.00" x2="181.50" y2="697.00" stroke="#000000" stroke-width="1.2"/>
<line x1="179.00" y1="652.00" x2="184.00" y2="652.00" stroke="#000000" stroke-width="1.5"/>
<line x1="179.00" y1="697.00" x2="184.00" y2="697.00" stroke="#000000" stroke-width="1.5"/>
<rect x="43.00" y="658.90" width="5" height="5" fill="#000000"/>
<rect x="57.00" y="649.70" width="5" height="5" fill="#000000"/>
<rect x="61.00" y="651.10" width="5" height="5" fill="#000000"/>
<rect x="67.00" y="642.10" width="5" height="5" fill="#000000"/>
<rect x="76.00" y="634.40" width="5" height="5" fill="#000000"/>
<rect x="86.00" y="638.70" width="5" height="5" fill="#000000"/>
<rect x="95.00" y="645.40" width="5" height="5" fill="#000000"/>
<rect x="138.00" y="661.80" width="5" height="5" fill="#000000"/>
<rect x="179.00" y="669.90" width="5" height="5" fill="#000000"/>
</g>
<text x="59.50" y="728.20" font-size="8.9" text-anchor="middle" fill="#111" stroke="#111" stroke-width="0.12">0</text>
<text x="100.23" y="728.20" font-size="8.9" text-anchor="middle" fill="#111" stroke="#111" stroke-width="0.12">30</text>
<text x="140.97" y="728.20" font-size="8.9" text-anchor="middle" fill="#111" stroke="#111" stroke-width="0.12">60</text>
<text x="181.70" y="728.20" font-size="8.9" text-anchor="middle" fill="#111" stroke="#111" stroke-width="0.12">90</text>
<text x="112.61" y="742.40" font-size="10.8" font-weight="bold" text-anchor="middle" textLength="15.4" lengthAdjust="spacingAndGlyphs" fill="#111">Days</text>
<text x="34.02" y="581.20" font-size="8.9" text-anchor="end" fill="#111" stroke="#111" stroke-width="0.12">10</text>
<text x="34.72" y="577.70" font-size="6.6" fill="#111">4</text>
<text x="34.02" y="649.30" font-size="8.9" text-anchor="end" fill="#111" stroke="#111" stroke-width="0.12">10</text>
<text x="34.72" y="645.80" font-size="6.6" fill="#111">3</text>
<text x="34.02" y="717.40" font-size="8.9" text-anchor="end" fill="#111" stroke="#111" stroke-width="0.12">10</text>
<text x="34.72" y="713.90" font-size="6.6" fill="#111">2</text>
<text transform="translate(17.60,646.60) rotate(-90)" font-size="10" text-anchor="middle" textLength="51" lengthAdjust="spacingAndGlyphs" fill="#111" stroke="#111" stroke-width="0.2">Ferritin (ng/mL)</text>
<rect x="203.50" y="579.30" width="13.10" height="134.70" fill="#cfccc1"/>
<rect x="216.60" y="702.64" width="121.60" height="11.36" fill="#f2f6f7"/>
<line x1="203.09" y1="702.50" x2="338.20" y2="702.50" stroke="#000" stroke-width="1.2" stroke-dasharray="1.3 1.05"/>
<text transform="translate(212.40,712.10) rotate(-90)" font-size="9.5" textLength="25.20" lengthAdjust="spacingAndGlyphs" fill="#000" stroke="#000" stroke-width="0.15">Pre-LD</text>
<line x1="203.50" y1="579.30" x2="203.50" y2="715.10" stroke="#000" stroke-width="1.25"/>
<line x1="199.90" y1="714.50" x2="339.10" y2="714.50" stroke="#000" stroke-width="1.25"/>
<line x1="199.90" y1="579.50" x2="203.50" y2="579.50" stroke="#000" stroke-width="1.1"/>
<line x1="199.90" y1="646.50" x2="203.50" y2="646.50" stroke="#000" stroke-width="1.1"/>
<line x1="216.50" y1="714.50" x2="216.50" y2="717.70" stroke="#000" stroke-width="1.1"/>
<line x1="230.50" y1="714.50" x2="230.50" y2="717.70" stroke="#000" stroke-width="1.1"/>
<line x1="243.50" y1="714.50" x2="243.50" y2="717.70" stroke="#000" stroke-width="1.1"/>
<line x1="257.50" y1="714.50" x2="257.50" y2="717.70" stroke="#000" stroke-width="1.1"/>
<line x1="270.50" y1="714.50" x2="270.50" y2="717.70" stroke="#000" stroke-width="1.1"/>
<line x1="284.50" y1="714.50" x2="284.50" y2="717.70" stroke="#000" stroke-width="1.1"/>
<line x1="297.50" y1="714.50" x2="297.50" y2="717.70" stroke="#000" stroke-width="1.1"/>
<line x1="311.50" y1="714.50" x2="311.50" y2="717.70" stroke="#000" stroke-width="1.1"/>
<line x1="324.50" y1="714.50" x2="324.50" y2="717.70" stroke="#000" stroke-width="1.1"/>
<line x1="338.50" y1="714.50" x2="338.50" y2="717.70" stroke="#000" stroke-width="1.1"/>
<line x1="203.50" y1="714.50" x2="203.50" y2="717.30" stroke="#000" stroke-width="1.1"/>
<clipPath id="c42"><rect x="199.09" y="579.30" width="143.11" height="138.70"/></clipPath>
<g clip-path="url(#c42)">
<polyline points="203.09,660.00 216.60,650.80 220.65,653.60 226.06,644.40 235.52,634.90 244.97,639.80 254.43,646.40 297.67,662.30 338.20,658.50" fill="none" stroke="#000000" stroke-width="2.0" stroke-linejoin="miter"/>
<line x1="203.50" y1="647.00" x2="203.50" y2="674.00" stroke="#000000" stroke-width="1.2"/>
<line x1="201.00" y1="647.00" x2="206.00" y2="647.00" stroke="#000000" stroke-width="1.5"/>
<line x1="201.00" y1="674.00" x2="206.00" y2="674.00" stroke="#000000" stroke-width="1.5"/>
<line x1="216.50" y1="644.00" x2="216.50" y2="657.00" stroke="#000000" stroke-width="1.2"/>
<line x1="214.00" y1="644.00" x2="219.00" y2="644.00" stroke="#000000" stroke-width="1.5"/>
<line x1="214.00" y1="657.00" x2="219.00" y2="657.00" stroke="#000000" stroke-width="1.5"/>
<line x1="220.50" y1="648.00" x2="220.50" y2="662.00" stroke="#000000" stroke-width="1.2"/>
<line x1="218.00" y1="648.00" x2="223.00" y2="648.00" stroke="#000000" stroke-width="1.5"/>
<line x1="218.00" y1="662.00" x2="223.00" y2="662.00" stroke="#000000" stroke-width="1.5"/>
<line x1="226.50" y1="637.00" x2="226.50" y2="654.00" stroke="#000000" stroke-width="1.2"/>
<line x1="224.00" y1="637.00" x2="229.00" y2="637.00" stroke="#000000" stroke-width="1.5"/>
<line x1="224.00" y1="654.00" x2="229.00" y2="654.00" stroke="#000000" stroke-width="1.5"/>
<line x1="235.50" y1="628.00" x2="235.50" y2="651.00" stroke="#000000" stroke-width="1.2"/>
<line x1="233.00" y1="628.00" x2="238.00" y2="628.00" stroke="#000000" stroke-width="1.5"/>
<line x1="233.00" y1="651.00" x2="238.00" y2="651.00" stroke="#000000" stroke-width="1.5"/>
<line x1="244.50" y1="637.00" x2="244.50" y2="644.00" stroke="#000000" stroke-width="1.2"/>
<line x1="242.00" y1="637.00" x2="247.00" y2="637.00" stroke="#000000" stroke-width="1.5"/>
<line x1="242.00" y1="644.00" x2="247.00" y2="644.00" stroke="#000000" stroke-width="1.5"/>
<line x1="254.50" y1="644.00" x2="254.50" y2="650.00" stroke="#000000" stroke-width="1.2"/>
<line x1="252.00" y1="644.00" x2="257.00" y2="644.00" stroke="#000000" stroke-width="1.5"/>
<line x1="252.00" y1="650.00" x2="257.00" y2="650.00" stroke="#000000" stroke-width="1.5"/>
<line x1="297.50" y1="638.00" x2="297.50" y2="678.00" stroke="#000000" stroke-width="1.2"/>
<line x1="295.00" y1="638.00" x2="300.00" y2="638.00" stroke="#000000" stroke-width="1.5"/>
<line x1="295.00" y1="678.00" x2="300.00" y2="678.00" stroke="#000000" stroke-width="1.5"/>
<line x1="338.50" y1="648.00" x2="338.50" y2="674.00" stroke="#000000" stroke-width="1.2"/>
<line x1="336.00" y1="648.00" x2="341.00" y2="648.00" stroke="#000000" stroke-width="1.5"/>
<line x1="336.00" y1="674.00" x2="341.00" y2="674.00" stroke="#000000" stroke-width="1.5"/>
<rect x="201.00" y="657.50" width="5" height="5" fill="#000000"/>
<rect x="214.00" y="648.30" width="5" height="5" fill="#000000"/>
<rect x="218.00" y="651.10" width="5" height="5" fill="#000000"/>
<rect x="224.00" y="641.90" width="5" height="5" fill="#000000"/>
<rect x="233.00" y="632.40" width="5" height="5" fill="#000000"/>
<rect x="242.00" y="637.30" width="5" height="5" fill="#000000"/>
<rect x="252.00" y="643.90" width="5" height="5" fill="#000000"/>
<rect x="295.00" y="659.80" width="5" height="5" fill="#000000"/>
<rect x="336.00" y="656.00" width="5" height="5" fill="#000000"/>
<polyline points="203.09,652.80 216.60,632.00 220.65,621.30 226.06,619.00 235.52,606.10 244.97,632.90 254.43,638.40 297.67,666.60 338.20,681.00" fill="none" stroke="#0a2dc8" stroke-width="2.0" stroke-linejoin="miter"/>
<line x1="203.50" y1="609.00" x2="203.50" y2="677.00" stroke="#0a2dc8" stroke-width="1.2"/>
<line x1="201.00" y1="609.00" x2="206.00" y2="609.00" stroke="#0a2dc8" stroke-width="1.5"/>
<line x1="201.00" y1="677.00" x2="206.00" y2="677.00" stroke="#0a2dc8" stroke-width="1.5"/>
<line x1="216.50" y1="597.00" x2="216.50" y2="662.00" stroke="#0a2dc8" stroke-width="1.2"/>
<line x1="214.00" y1="597.00" x2="219.00" y2="597.00" stroke="#0a2dc8" stroke-width="1.5"/>
<line x1="214.00" y1="662.00" x2="219.00" y2="662.00" stroke="#0a2dc8" stroke-width="1.5"/>
<line x1="220.50" y1="609.00" x2="220.50" y2="641.00" stroke="#0a2dc8" stroke-width="1.2"/>
<line x1="218.00" y1="609.00" x2="223.00" y2="609.00" stroke="#0a2dc8" stroke-width="1.5"/>
<line x1="218.00" y1="641.00" x2="223.00" y2="641.00" stroke="#0a2dc8" stroke-width="1.5"/>
<line x1="226.50" y1="613.00" x2="226.50" y2="655.00" stroke="#0a2dc8" stroke-width="1.2"/>
<line x1="224.00" y1="613.00" x2="229.00" y2="613.00" stroke="#0a2dc8" stroke-width="1.5"/>
<line x1="224.00" y1="655.00" x2="229.00" y2="655.00" stroke="#0a2dc8" stroke-width="1.5"/>
<line x1="235.50" y1="594.00" x2="235.50" y2="619.00" stroke="#0a2dc8" stroke-width="1.2"/>
<line x1="233.00" y1="594.00" x2="238.00" y2="594.00" stroke="#0a2dc8" stroke-width="1.5"/>
<line x1="233.00" y1="619.00" x2="238.00" y2="619.00" stroke="#0a2dc8" stroke-width="1.5"/>
<line x1="244.50" y1="610.00" x2="244.50" y2="655.00" stroke="#0a2dc8" stroke-width="1.2"/>
<line x1="242.00" y1="610.00" x2="247.00" y2="610.00" stroke="#0a2dc8" stroke-width="1.5"/>
<line x1="242.00" y1="655.00" x2="247.00" y2="655.00" stroke="#0a2dc8" stroke-width="1.5"/>
<line x1="254.50" y1="612.00" x2="254.50" y2="663.00" stroke="#0a2dc8" stroke-width="1.2"/>
<line x1="252.00" y1="612.00" x2="257.00" y2="612.00" stroke="#0a2dc8" stroke-width="1.5"/>
<line x1="252.00" y1="663.00" x2="257.00" y2="663.00" stroke="#0a2dc8" stroke-width="1.5"/>
<line x1="297.50" y1="606.00" x2="297.50" y2="695.00" stroke="#0a2dc8" stroke-width="1.2"/>
<line x1="295.00" y1="606.00" x2="300.00" y2="606.00" stroke="#0a2dc8" stroke-width="1.5"/>
<line x1="295.00" y1="695.00" x2="300.00" y2="695.00" stroke="#0a2dc8" stroke-width="1.5"/>
<line x1="338.50" y1="674.00" x2="338.50" y2="692.00" stroke="#0a2dc8" stroke-width="1.2"/>
<line x1="336.00" y1="674.00" x2="341.00" y2="674.00" stroke="#0a2dc8" stroke-width="1.5"/>
<line x1="336.00" y1="692.00" x2="341.00" y2="692.00" stroke="#0a2dc8" stroke-width="1.5"/>
<rect x="201.00" y="650.30" width="5" height="5" fill="#0a2dc8"/>
<rect x="214.00" y="629.50" width="5" height="5" fill="#0a2dc8"/>
<rect x="218.00" y="618.80" width="5" height="5" fill="#0a2dc8"/>
<rect x="224.00" y="616.50" width="5" height="5" fill="#0a2dc8"/>
<rect x="233.00" y="603.60" width="5" height="5" fill="#0a2dc8"/>
<rect x="242.00" y="630.40" width="5" height="5" fill="#0a2dc8"/>
<rect x="252.00" y="635.90" width="5" height="5" fill="#0a2dc8"/>
<rect x="295.00" y="664.10" width="5" height="5" fill="#0a2dc8"/>
<rect x="336.00" y="678.50" width="5" height="5" fill="#0a2dc8"/>
</g>
<text x="216.60" y="727.90" font-size="8.9" text-anchor="middle" fill="#111" stroke="#111" stroke-width="0.12">0</text>
<text x="257.13" y="727.90" font-size="8.9" text-anchor="middle" fill="#111" stroke="#111" stroke-width="0.12">30</text>
<text x="297.67" y="727.90" font-size="8.9" text-anchor="middle" fill="#111" stroke="#111" stroke-width="0.12">60</text>
<text x="338.20" y="727.90" font-size="8.9" text-anchor="middle" fill="#111" stroke="#111" stroke-width="0.12">90</text>
<text x="269.44" y="742.10" font-size="10.8" font-weight="bold" text-anchor="middle" textLength="15.4" lengthAdjust="spacingAndGlyphs" fill="#111">Days</text>
<rect x="367.50" y="576.30" width="13.70" height="137.70" fill="#cfccc1"/>
<rect x="381.20" y="702.38" width="123.70" height="11.62" fill="#f2f6f7"/>
<line x1="367.46" y1="701.50" x2="504.90" y2="701.50" stroke="#000" stroke-width="1.2" stroke-dasharray="1.3 1.05"/>
<text transform="translate(377.30,710.90) rotate(-90)" font-size="9.5" textLength="25.20" lengthAdjust="spacingAndGlyphs" fill="#000" stroke="#000" stroke-width="0.15">Pre-LD</text>
<line x1="367.50" y1="576.30" x2="367.50" y2="715.10" stroke="#000" stroke-width="1.25"/>
<line x1="363.90" y1="714.50" x2="505.10" y2="714.50" stroke="#000" stroke-width="1.25"/>
<line x1="363.90" y1="576.50" x2="367.50" y2="576.50" stroke="#000" stroke-width="1.1"/>
<line x1="363.90" y1="645.50" x2="367.50" y2="645.50" stroke="#000" stroke-width="1.1"/>
<line x1="381.50" y1="714.50" x2="381.50" y2="717.70" stroke="#000" stroke-width="1.1"/>
<line x1="394.50" y1="714.50" x2="394.50" y2="717.70" stroke="#000" stroke-width="1.1"/>
<line x1="408.50" y1="714.50" x2="408.50" y2="717.70" stroke="#000" stroke-width="1.1"/>
<line x1="422.50" y1="714.50" x2="422.50" y2="717.70" stroke="#000" stroke-width="1.1"/>
<line x1="436.50" y1="714.50" x2="436.50" y2="717.70" stroke="#000" stroke-width="1.1"/>
<line x1="449.50" y1="714.50" x2="449.50" y2="717.70" stroke="#000" stroke-width="1.1"/>
<line x1="463.50" y1="714.50" x2="463.50" y2="717.70" stroke="#000" stroke-width="1.1"/>
<line x1="477.50" y1="714.50" x2="477.50" y2="717.70" stroke="#000" stroke-width="1.1"/>
<line x1="491.50" y1="714.50" x2="491.50" y2="717.70" stroke="#000" stroke-width="1.1"/>
<line x1="504.50" y1="714.50" x2="504.50" y2="717.70" stroke="#000" stroke-width="1.1"/>
<line x1="367.50" y1="714.50" x2="367.50" y2="717.30" stroke="#000" stroke-width="1.1"/>
<clipPath id="c43"><rect x="363.46" y="576.30" width="145.44" height="141.70"/></clipPath>
<g clip-path="url(#c43)">
<polyline points="367.46,647.30 381.20,649.30 385.32,629.70 390.82,626.20 400.44,625.40 410.06,633.50 419.68,647.90 463.67,661.70 504.90,655.10" fill="none" stroke="#046612" stroke-width="2.0" stroke-linejoin="miter"/>
<line x1="367.50" y1="612.00" x2="367.50" y2="682.00" stroke="#046612" stroke-width="1.2"/>
<line x1="365.00" y1="612.00" x2="370.00" y2="612.00" stroke="#046612" stroke-width="1.5"/>
<line x1="365.00" y1="682.00" x2="370.00" y2="682.00" stroke="#046612" stroke-width="1.5"/>
<line x1="381.50" y1="633.00" x2="381.50" y2="659.00" stroke="#046612" stroke-width="1.2"/>
<line x1="379.00" y1="633.00" x2="384.00" y2="633.00" stroke="#046612" stroke-width="1.5"/>
<line x1="379.00" y1="659.00" x2="384.00" y2="659.00" stroke="#046612" stroke-width="1.5"/>
<line x1="385.50" y1="594.00" x2="385.50" y2="657.00" stroke="#046612" stroke-width="1.2"/>
<line x1="383.00" y1="594.00" x2="388.00" y2="594.00" stroke="#046612" stroke-width="1.5"/>
<line x1="383.00" y1="657.00" x2="388.00" y2="657.00" stroke="#046612" stroke-width="1.5"/>
<line x1="390.50" y1="596.00" x2="390.50" y2="659.00" stroke="#046612" stroke-width="1.2"/>
<line x1="388.00" y1="596.00" x2="393.00" y2="596.00" stroke="#046612" stroke-width="1.5"/>
<line x1="388.00" y1="659.00" x2="393.00" y2="659.00" stroke="#046612" stroke-width="1.5"/>
<line x1="400.50" y1="590.00" x2="400.50" y2="637.00" stroke="#046612" stroke-width="1.2"/>
<line x1="398.00" y1="590.00" x2="403.00" y2="590.00" stroke="#046612" stroke-width="1.5"/>
<line x1="398.00" y1="637.00" x2="403.00" y2="637.00" stroke="#046612" stroke-width="1.5"/>
<line x1="410.50" y1="593.00" x2="410.50" y2="653.00" stroke="#046612" stroke-width="1.2"/>
<line x1="408.00" y1="593.00" x2="413.00" y2="593.00" stroke="#046612" stroke-width="1.5"/>
<line x1="408.00" y1="653.00" x2="413.00" y2="653.00" stroke="#046612" stroke-width="1.5"/>
<line x1="419.50" y1="623.00" x2="419.50" y2="651.00" stroke="#046612" stroke-width="1.2"/>
<line x1="417.00" y1="623.00" x2="422.00" y2="623.00" stroke="#046612" stroke-width="1.5"/>
<line x1="417.00" y1="651.00" x2="422.00" y2="651.00" stroke="#046612" stroke-width="1.5"/>
<line x1="463.50" y1="602.00" x2="463.50" y2="700.00" stroke="#046612" stroke-width="1.2"/>
<line x1="461.00" y1="602.00" x2="466.00" y2="602.00" stroke="#046612" stroke-width="1.5"/>
<line x1="461.00" y1="700.00" x2="466.00" y2="700.00" stroke="#046612" stroke-width="1.5"/>
<line x1="504.50" y1="589.00" x2="504.50" y2="691.00" stroke="#046612" stroke-width="1.2"/>
<line x1="502.00" y1="589.00" x2="507.00" y2="589.00" stroke="#046612" stroke-width="1.5"/>
<line x1="502.00" y1="691.00" x2="507.00" y2="691.00" stroke="#046612" stroke-width="1.5"/>
<rect x="365.00" y="644.80" width="5" height="5" fill="#046612"/>
<rect x="379.00" y="646.80" width="5" height="5" fill="#046612"/>
<rect x="383.00" y="627.20" width="5" height="5" fill="#046612"/>
<rect x="388.00" y="623.70" width="5" height="5" fill="#046612"/>
<rect x="398.00" y="622.90" width="5" height="5" fill="#046612"/>
<rect x="408.00" y="631.00" width="5" height="5" fill="#046612"/>
<rect x="417.00" y="645.40" width="5" height="5" fill="#046612"/>
<rect x="461.00" y="659.20" width="5" height="5" fill="#046612"/>
<rect x="502.00" y="652.60" width="5" height="5" fill="#046612"/>
<polyline points="367.46,659.40 381.20,647.90 385.32,655.10 390.82,644.10 400.44,634.00 410.06,638.40 419.68,645.00 463.67,662.30 504.90,671.00" fill="none" stroke="#ff7a05" stroke-width="2.0" stroke-linejoin="miter"/>
<line x1="367.50" y1="650.00" x2="367.50" y2="673.00" stroke="#ff7a05" stroke-width="1.2"/>
<line x1="365.00" y1="650.00" x2="370.00" y2="650.00" stroke="#ff7a05" stroke-width="1.5"/>
<line x1="365.00" y1="673.00" x2="370.00" y2="673.00" stroke="#ff7a05" stroke-width="1.5"/>
<line x1="381.50" y1="641.00" x2="381.50" y2="657.00" stroke="#ff7a05" stroke-width="1.2"/>
<line x1="379.00" y1="641.00" x2="384.00" y2="641.00" stroke="#ff7a05" stroke-width="1.5"/>
<line x1="379.00" y1="657.00" x2="384.00" y2="657.00" stroke="#ff7a05" stroke-width="1.5"/>
<line x1="385.50" y1="646.00" x2="385.50" y2="666.00" stroke="#ff7a05" stroke-width="1.2"/>
<line x1="383.00" y1="646.00" x2="388.00" y2="646.00" stroke="#ff7a05" stroke-width="1.5"/>
<line x1="383.00" y1="666.00" x2="388.00" y2="666.00" stroke="#ff7a05" stroke-width="1.5"/>
<line x1="390.50" y1="637.00" x2="390.50" y2="653.00" stroke="#ff7a05" stroke-width="1.2"/>
<line x1="388.00" y1="637.00" x2="393.00" y2="637.00" stroke="#ff7a05" stroke-width="1.5"/>
<line x1="388.00" y1="653.00" x2="393.00" y2="653.00" stroke="#ff7a05" stroke-width="1.5"/>
<line x1="400.50" y1="627.00" x2="400.50" y2="650.00" stroke="#ff7a05" stroke-width="1.2"/>
<line x1="398.00" y1="627.00" x2="403.00" y2="627.00" stroke="#ff7a05" stroke-width="1.5"/>
<line x1="398.00" y1="650.00" x2="403.00" y2="650.00" stroke="#ff7a05" stroke-width="1.5"/>
<line x1="410.50" y1="633.00" x2="410.50" y2="656.00" stroke="#ff7a05" stroke-width="1.2"/>
<line x1="408.00" y1="633.00" x2="413.00" y2="633.00" stroke="#ff7a05" stroke-width="1.5"/>
<line x1="408.00" y1="656.00" x2="413.00" y2="656.00" stroke="#ff7a05" stroke-width="1.5"/>
<line x1="419.50" y1="633.00" x2="419.50" y2="663.00" stroke="#ff7a05" stroke-width="1.2"/>
<line x1="417.00" y1="633.00" x2="422.00" y2="633.00" stroke="#ff7a05" stroke-width="1.5"/>
<line x1="417.00" y1="663.00" x2="422.00" y2="663.00" stroke="#ff7a05" stroke-width="1.5"/>
<line x1="463.50" y1="637.00" x2="463.50" y2="680.00" stroke="#ff7a05" stroke-width="1.2"/>
<line x1="461.00" y1="637.00" x2="466.00" y2="637.00" stroke="#ff7a05" stroke-width="1.5"/>
<line x1="461.00" y1="680.00" x2="466.00" y2="680.00" stroke="#ff7a05" stroke-width="1.5"/>
<line x1="504.50" y1="648.00" x2="504.50" y2="697.00" stroke="#ff7a05" stroke-width="1.2"/>
<line x1="502.00" y1="648.00" x2="507.00" y2="648.00" stroke="#ff7a05" stroke-width="1.5"/>
<line x1="502.00" y1="697.00" x2="507.00" y2="697.00" stroke="#ff7a05" stroke-width="1.5"/>
<rect x="365.00" y="656.90" width="5" height="5" fill="#ff7a05"/>
<rect x="379.00" y="645.40" width="5" height="5" fill="#ff7a05"/>
<rect x="383.00" y="652.60" width="5" height="5" fill="#ff7a05"/>
<rect x="388.00" y="641.60" width="5" height="5" fill="#ff7a05"/>
<rect x="398.00" y="631.50" width="5" height="5" fill="#ff7a05"/>
<rect x="408.00" y="635.90" width="5" height="5" fill="#ff7a05"/>
<rect x="417.00" y="642.50" width="5" height="5" fill="#ff7a05"/>
<rect x="461.00" y="659.80" width="5" height="5" fill="#ff7a05"/>
<rect x="502.00" y="668.50" width="5" height="5" fill="#ff7a05"/>
</g>
<text x="381.20" y="727.90" font-size="8.9" text-anchor="middle" fill="#111" stroke="#111" stroke-width="0.12">0</text>
<text x="422.43" y="727.90" font-size="8.9" text-anchor="middle" fill="#111" stroke="#111" stroke-width="0.12">30</text>
<text x="463.67" y="727.90" font-size="8.9" text-anchor="middle" fill="#111" stroke="#111" stroke-width="0.12">60</text>
<text x="504.90" y="727.90" font-size="8.9" text-anchor="middle" fill="#111" stroke="#111" stroke-width="0.12">90</text>
<text x="434.98" y="742.10" font-size="10.8" font-weight="bold" text-anchor="middle" textLength="15.4" lengthAdjust="spacingAndGlyphs" fill="#111">Days</text>
<rect x="0.75" y="0.75" width="518.5" height="749.5" fill="none" stroke="#000" stroke-width="1.5"/>
<rect x="518" y="0" width="2" height="751" fill="#000"/><rect x="0" y="749" width="520" height="2" fill="#000"/>
</svg></body></html>
